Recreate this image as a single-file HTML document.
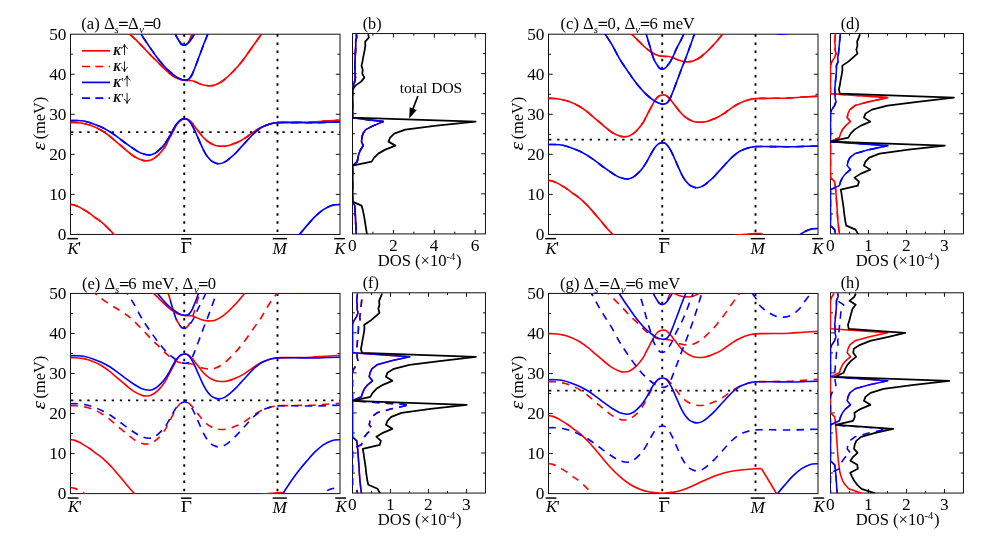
<!DOCTYPE html>
<html><head><meta charset="utf-8"><title>Band structure and DOS</title>
<style>
html,body{margin:0;padding:0;background:#fff;}
body{width:992px;height:540px;overflow:hidden;font-family:"Liberation Serif",serif;}
svg{display:block;will-change:transform;}
svg text{font-family:"Liberation Serif",serif;fill:#000;}
.t{font-size:16px;}
.k{font-size:17.3px;}
.u{font-size:16.6px;}
</style></head><body>
<svg width="992" height="540" viewBox="0 0 992 540">
<rect width="992" height="540" fill="#fff"/>
<clipPath id="ca"><rect x="70.1" y="34.1" width="270.3" height="200.85"/></clipPath>
<g stroke="#111" stroke-width="1" fill="none">
<rect x="70.5" y="34.2" width="269.5" height="200.25"/>
<path d="M70.5 214.42h2.5M340 214.42h-2.5M70.5 194.4h4.2M340 194.4h-4.2M70.5 174.38h2.5M340 174.38h-2.5M70.5 154.35h4.2M340 154.35h-4.2M70.5 134.32h2.5M340 134.32h-2.5M70.5 114.3h4.2M340 114.3h-4.2M70.5 94.28h2.5M340 94.28h-2.5M70.5 74.25h4.2M340 74.25h-4.2M70.5 54.22h2.5M340 54.22h-2.5"/>
</g>
<g stroke="#000" fill="none">
<path d="M184.25 34.35V234.45" stroke-width="1.9" stroke-dasharray="2.5 5.63"/>
<path d="M277.5 34.35V234.45" stroke-width="1.9" stroke-dasharray="2.5 5.63"/>
<path d="M71.05 132.18H340" stroke-width="1.8" stroke-dasharray="2.3 5.83"/>
</g>
<g clip-path="url(#ca)" fill="none" stroke-width="1.62" stroke-linejoin="round">
<path d="M70.5 122.4C71.47 122.42 73.93 122.28 76.3 122.5C78.67 122.72 81.92 123.08 84.7 123.7C87.48 124.32 90.23 125.1 93 126.2C95.77 127.3 98.52 128.63 101.3 130.3C104.08 131.97 106.92 134.04 109.7 136.2C112.48 138.36 115.23 140.9 118 143.25C120.77 145.6 123.67 148.14 126.3 150.3C128.93 152.46 131.23 154.58 133.8 156.2C136.37 157.82 139.63 159.23 141.7 160C143.77 160.77 144.53 160.85 146.2 160.8C147.87 160.75 149.68 160.67 151.7 159.7C153.72 158.73 156.08 157.17 158.3 155C160.52 152.83 163.38 149.03 165 146.7C166.62 144.37 167.01 142.88 168 141C168.99 139.12 169.98 137.27 170.96 135.4C171.94 133.53 172.91 131.63 173.9 129.8C174.89 127.97 175.91 125.9 176.9 124.4C177.89 122.9 178.97 121.63 179.85 120.8C180.73 119.97 181.46 119.7 182.2 119.4C182.94 119.1 183.5 119.05 184.3 119C185.1 118.95 186.07 118.78 187 119.1C187.93 119.42 188.92 120.06 189.9 120.9C190.88 121.74 191.91 122.97 192.9 124.15C193.89 125.33 194.87 126.72 195.85 128C196.83 129.28 198.11 130.97 198.8 131.85C199.49 132.73 199.18 132.31 200 133.3C200.82 134.29 202.47 136.5 203.7 137.8C204.93 139.1 206.17 140.15 207.4 141.1C208.63 142.05 209.87 142.82 211.1 143.5C212.33 144.18 213.57 144.78 214.8 145.2C216.03 145.62 217.27 145.82 218.5 146C219.73 146.18 220.97 146.3 222.2 146.3C223.43 146.3 224.67 146.18 225.9 146C227.13 145.82 228.37 145.56 229.6 145.2C230.83 144.84 232.07 144.32 233.3 143.85C234.53 143.38 235.78 142.93 237 142.4C238.22 141.88 239.22 141.45 240.6 140.7C241.98 139.95 243.75 138.9 245.3 137.9C246.85 136.9 248.37 135.78 249.9 134.7C251.43 133.62 252.97 132.43 254.5 131.4C256.03 130.37 257.55 129.37 259.1 128.5C260.65 127.63 262.25 126.87 263.8 126.2C265.35 125.53 266.87 124.98 268.4 124.5C269.93 124.02 271.45 123.61 273 123.3C274.55 122.99 276.15 122.8 277.7 122.65C279.25 122.5 280.92 122.44 282.3 122.4C283.68 122.36 283.88 122.42 286 122.4C288.12 122.38 290.72 122.37 295 122.3C299.28 122.23 306.7 122.22 311.7 122C316.7 121.78 320.28 121.3 325 121C329.72 120.7 337.5 120.33 340 120.2" stroke="#f00"/>
<path d="M70.5 204.42C71.22 204.55 73.33 204.73 74.8 205.18C76.27 205.63 77.82 206.36 79.3 207.1C80.78 207.84 81.98 208.59 83.7 209.62C85.42 210.65 87.62 211.92 89.6 213.3C91.58 214.68 93.92 216.67 95.6 217.9C97.28 219.13 98.05 219.4 99.7 220.7C101.35 222 103.47 223.8 105.5 225.7C107.53 227.6 109.17 229.08 111.9 232.1C114.63 235.12 118.57 239.9 121.9 243.8C125.23 247.7 128.57 251.88 131.9 255.5C135.23 259.12 138.57 262.58 141.9 265.5C145.23 268.42 148.57 270.92 151.9 273C155.23 275.08 158.57 276.7 161.9 278C165.23 279.3 168.13 280.13 171.9 280.8C175.67 281.47 180.62 281.97 184.5 282C188.38 282.03 192.25 281.4 195.2 281C198.15 280.6 199.37 280.47 202.2 279.6C205.03 278.73 208.32 277.47 212.2 275.8C216.08 274.13 221.05 271.55 225.5 269.6C229.95 267.65 234.45 265.65 238.9 264.1C243.35 262.55 247.77 261.23 252.2 260.3C256.63 259.38 261.28 259.01 265.5 258.55C269.72 258.09 274.5 257.73 277.5 257.55C280.5 257.38 282.5 257.51 283.5 257.5" stroke="#f00"/>
<path d="M283.5 257.5L298.5 282.3L313.5 307.1" stroke="#f00"/>
<path d="M85.5 2.3C87.12 3.63 92.07 7.77 95.2 10.3C98.33 12.83 100.8 15.03 104.3 17.5C107.8 19.97 113.17 23.2 116.2 25.1C119.23 27 120.6 27.67 122.5 28.9C124.4 30.13 126.38 31.6 127.6 32.5C128.82 33.4 129.03 33.6 129.85 34.3C130.67 35 131.51 35.8 132.5 36.7C133.49 37.6 134.37 38.3 135.8 39.7C137.23 41.1 139.32 43.27 141.1 45.1C142.88 46.93 144.7 48.8 146.5 50.7C148.3 52.6 150.13 54.7 151.9 56.5C153.67 58.3 155.37 59.8 157.1 61.5C158.83 63.2 160.6 65.03 162.3 66.7C164 68.37 165.63 70.03 167.3 71.5C168.97 72.97 170.5 74.3 172.3 75.5C174.1 76.7 176.1 77.9 178.1 78.7C180.1 79.5 182.23 80 184.3 80.3C186.37 80.6 188.77 80.3 190.5 80.5C192.23 80.7 192.97 80.87 194.7 81.5C196.43 82.13 198.65 83.6 200.9 84.3C203.15 85 205.85 85.57 208.2 85.7C210.55 85.83 212.48 85.97 215 85.1C217.52 84.23 220.25 82.8 223.3 80.5C226.35 78.2 229.97 74.77 233.3 71.3C236.63 67.83 239.97 64 243.3 59.7C246.63 55.4 250.3 49.73 253.3 45.5C256.3 41.27 258.8 38.17 261.3 34.3C263.8 30.43 265.73 26.3 268.3 22.3C270.87 18.3 274 14.03 276.7 10.3C279.4 6.57 283.2 1.63 284.5 -0.1" stroke="#f00"/>
<path d="M159.5 -23.7C159.83 -22.03 160.58 -17.37 161.5 -13.7C162.42 -10.03 163.87 -5.7 165 -1.7C166.13 2.3 167.12 6.17 168.3 10.3C169.48 14.43 170.9 19.1 172.1 23.1C173.3 27.1 174.5 31.6 175.5 34.3C176.5 37 177.15 37.7 178.1 39.3C179.05 40.9 180.17 42.9 181.2 43.9C182.23 44.9 183.33 45.3 184.3 45.3C185.27 45.3 186.13 44.73 187 43.9C187.87 43.07 188.65 41.9 189.5 40.3C190.35 38.7 191.35 36.13 192.1 34.3C192.85 32.47 192.78 33.3 194 29.3C195.22 25.3 197.98 15.47 199.4 10.3C200.82 5.13 201.98 0.3 202.5 -1.7" stroke="#f00"/>
<path d="M70.5 122.4C71.47 122.42 73.93 122.28 76.3 122.5C78.67 122.72 81.92 123.08 84.7 123.7C87.48 124.32 90.23 125.1 93 126.2C95.77 127.3 98.52 128.63 101.3 130.3C104.08 131.97 106.92 134.04 109.7 136.2C112.48 138.36 115.23 140.9 118 143.25C120.77 145.6 123.67 148.14 126.3 150.3C128.93 152.46 131.23 154.58 133.8 156.2C136.37 157.82 139.63 159.23 141.7 160C143.77 160.77 144.53 160.85 146.2 160.8C147.87 160.75 149.68 160.67 151.7 159.7C153.72 158.73 156.08 157.17 158.3 155C160.52 152.83 163.38 149.03 165 146.7C166.62 144.37 167.01 142.88 168 141C168.99 139.12 169.98 137.27 170.96 135.4C171.94 133.53 172.91 131.63 173.9 129.8C174.89 127.97 175.91 125.9 176.9 124.4C177.89 122.9 178.97 121.63 179.85 120.8C180.73 119.97 181.46 119.7 182.2 119.4C182.94 119.1 183.5 119.05 184.3 119C185.1 118.95 186.07 118.78 187 119.1C187.93 119.42 188.92 120.06 189.9 120.9C190.88 121.74 191.91 122.97 192.9 124.15C193.89 125.33 194.87 126.72 195.85 128C196.83 129.28 198.11 130.97 198.8 131.85C199.49 132.73 199.18 132.31 200 133.3C200.82 134.29 202.47 136.5 203.7 137.8C204.93 139.1 206.17 140.15 207.4 141.1C208.63 142.05 209.87 142.82 211.1 143.5C212.33 144.18 213.57 144.78 214.8 145.2C216.03 145.62 217.27 145.82 218.5 146C219.73 146.18 220.97 146.3 222.2 146.3C223.43 146.3 224.67 146.18 225.9 146C227.13 145.82 228.37 145.56 229.6 145.2C230.83 144.84 232.07 144.32 233.3 143.85C234.53 143.38 235.78 142.93 237 142.4C238.22 141.88 239.22 141.45 240.6 140.7C241.98 139.95 243.75 138.9 245.3 137.9C246.85 136.9 248.37 135.78 249.9 134.7C251.43 133.62 252.97 132.43 254.5 131.4C256.03 130.37 257.55 129.37 259.1 128.5C260.65 127.63 262.25 126.87 263.8 126.2C265.35 125.53 266.87 124.98 268.4 124.5C269.93 124.02 271.45 123.61 273 123.3C274.55 122.99 276.15 122.8 277.7 122.65C279.25 122.5 280.92 122.44 282.3 122.4C283.68 122.36 283.88 122.42 286 122.4C288.12 122.38 290.72 122.37 295 122.3C299.28 122.23 306.7 122.22 311.7 122C316.7 121.78 320.28 121.3 325 121C329.72 120.7 337.5 120.33 340 120.2" stroke="#f00" stroke-dasharray="7.5 6.17" stroke-dashoffset="0"/>
<path d="M70.5 204.42C71.22 204.55 73.33 204.73 74.8 205.18C76.27 205.63 77.82 206.36 79.3 207.1C80.78 207.84 81.98 208.59 83.7 209.62C85.42 210.65 87.62 211.92 89.6 213.3C91.58 214.68 93.92 216.67 95.6 217.9C97.28 219.13 98.05 219.4 99.7 220.7C101.35 222 103.47 223.8 105.5 225.7C107.53 227.6 109.17 229.08 111.9 232.1C114.63 235.12 118.57 239.9 121.9 243.8C125.23 247.7 128.57 251.88 131.9 255.5C135.23 259.12 138.57 262.58 141.9 265.5C145.23 268.42 148.57 270.92 151.9 273C155.23 275.08 158.57 276.7 161.9 278C165.23 279.3 168.13 280.13 171.9 280.8C175.67 281.47 180.62 281.97 184.5 282C188.38 282.03 192.25 281.4 195.2 281C198.15 280.6 199.37 280.47 202.2 279.6C205.03 278.73 208.32 277.47 212.2 275.8C216.08 274.13 221.05 271.55 225.5 269.6C229.95 267.65 234.45 265.65 238.9 264.1C243.35 262.55 247.77 261.23 252.2 260.3C256.63 259.38 261.28 259.01 265.5 258.55C269.72 258.09 274.5 257.73 277.5 257.55C280.5 257.38 282.5 257.51 283.5 257.5" stroke="#f00" stroke-dasharray="7.5 6.17" stroke-dashoffset="0"/>
<path d="M283.5 257.5L298.5 282.3L313.5 307.1" stroke="#f00" stroke-dasharray="7.5 6.17" stroke-dashoffset="0"/>
<path d="M85.5 2.3C87.12 3.63 92.07 7.77 95.2 10.3C98.33 12.83 100.8 15.03 104.3 17.5C107.8 19.97 113.17 23.2 116.2 25.1C119.23 27 120.6 27.67 122.5 28.9C124.4 30.13 126.38 31.6 127.6 32.5C128.82 33.4 129.03 33.6 129.85 34.3C130.67 35 131.51 35.8 132.5 36.7C133.49 37.6 134.37 38.3 135.8 39.7C137.23 41.1 139.32 43.27 141.1 45.1C142.88 46.93 144.7 48.8 146.5 50.7C148.3 52.6 150.13 54.7 151.9 56.5C153.67 58.3 155.37 59.8 157.1 61.5C158.83 63.2 160.6 65.03 162.3 66.7C164 68.37 165.63 70.03 167.3 71.5C168.97 72.97 170.5 74.3 172.3 75.5C174.1 76.7 176.1 77.9 178.1 78.7C180.1 79.5 182.23 80 184.3 80.3C186.37 80.6 188.77 80.3 190.5 80.5C192.23 80.7 192.97 80.87 194.7 81.5C196.43 82.13 198.65 83.6 200.9 84.3C203.15 85 205.85 85.57 208.2 85.7C210.55 85.83 212.48 85.97 215 85.1C217.52 84.23 220.25 82.8 223.3 80.5C226.35 78.2 229.97 74.77 233.3 71.3C236.63 67.83 239.97 64 243.3 59.7C246.63 55.4 250.3 49.73 253.3 45.5C256.3 41.27 258.8 38.17 261.3 34.3C263.8 30.43 265.73 26.3 268.3 22.3C270.87 18.3 274 14.03 276.7 10.3C279.4 6.57 283.2 1.63 284.5 -0.1" stroke="#f00" stroke-dasharray="7.5 6.17" stroke-dashoffset="0"/>
<path d="M159.5 -23.7C159.83 -22.03 160.58 -17.37 161.5 -13.7C162.42 -10.03 163.87 -5.7 165 -1.7C166.13 2.3 167.12 6.17 168.3 10.3C169.48 14.43 170.9 19.1 172.1 23.1C173.3 27.1 174.5 31.6 175.5 34.3C176.5 37 177.15 37.7 178.1 39.3C179.05 40.9 180.17 42.9 181.2 43.9C182.23 44.9 183.33 45.3 184.3 45.3C185.27 45.3 186.13 44.73 187 43.9C187.87 43.07 188.65 41.9 189.5 40.3C190.35 38.7 191.35 36.13 192.1 34.3C192.85 32.47 192.78 33.3 194 29.3C195.22 25.3 197.98 15.47 199.4 10.3C200.82 5.13 201.98 0.3 202.5 -1.7" stroke="#f00" stroke-dasharray="7.5 6.17" stroke-dashoffset="0"/>
<path d="M70.5 120.6C71.47 120.58 73.93 120.38 76.3 120.5C78.67 120.62 81.92 120.77 84.7 121.3C87.48 121.83 90.23 122.75 93 123.7C95.77 124.65 98.52 125.68 101.3 127C104.08 128.32 106.92 129.87 109.7 131.6C112.48 133.33 115.23 135.38 118 137.4C120.77 139.42 123.52 141.68 126.3 143.7C129.08 145.72 132.2 147.91 134.7 149.5C137.2 151.09 138.88 152.33 141.3 153.25C143.72 154.17 146.92 154.99 149.2 155C151.48 155.01 152.92 154.55 155 153.3C157.08 152.05 160.03 149.12 161.7 147.5C163.37 145.88 163.95 145.02 165 143.6C166.05 142.18 167.01 140.63 168 138.96C168.99 137.29 169.98 135.38 170.96 133.6C171.94 131.82 172.91 129.98 173.9 128.3C174.89 126.63 175.91 124.88 176.9 123.55C177.89 122.22 178.97 121.02 179.85 120.3C180.73 119.58 181.46 119.45 182.2 119.2C182.94 118.95 183.6 118.83 184.3 118.8C185 118.77 185.67 118.7 186.4 119C187.13 119.3 187.82 119.65 188.7 120.6C189.58 121.55 190.7 123.07 191.7 124.7C192.7 126.33 193.72 128.37 194.7 130.4C195.68 132.43 196.72 134.92 197.6 136.9C198.48 138.88 198.98 140.03 200 142.3C201.02 144.57 202.47 148.12 203.7 150.5C204.93 152.88 206.17 154.92 207.4 156.6C208.63 158.28 209.83 159.57 211.1 160.6C212.37 161.63 213.65 162.28 215 162.8C216.35 163.32 217.53 163.85 219.2 163.7C220.87 163.55 222.92 163.07 225 161.9C227.08 160.73 229.87 158.23 231.7 156.7C233.53 155.17 234.52 154.21 236 152.7C237.48 151.19 239.05 149.34 240.6 147.65C242.15 145.96 243.75 144.24 245.3 142.55C246.85 140.86 248.37 139.12 249.9 137.5C251.43 135.88 252.97 134.2 254.5 132.8C256.03 131.4 257.55 130.18 259.1 129.1C260.65 128.02 262.25 127.12 263.8 126.35C265.35 125.58 266.87 125.01 268.4 124.5C269.93 123.99 271.45 123.61 273 123.3C274.55 122.99 276.15 122.78 277.7 122.65C279.25 122.52 280.92 122.52 282.3 122.5C283.68 122.48 283.88 122.53 286 122.55C288.12 122.57 290.72 122.56 295 122.6C299.28 122.64 306.15 122.85 311.7 122.8C317.25 122.75 323.58 122.43 328.3 122.3C333.02 122.17 338.05 122.05 340 122" stroke="#00f"/>
<path d="M275.5 270.3C276.75 268.3 280.3 262.5 283 258.3C285.7 254.1 288.92 249.1 291.7 245.1C294.48 241.1 297.2 237.5 299.7 234.3C302.2 231.1 304.15 228.83 306.7 225.9C309.25 222.97 312.23 219.4 315 216.7C317.77 214 320.52 211.57 323.3 209.7C326.08 207.83 328.92 206.37 331.7 205.5C334.48 204.63 338.62 204.67 340 204.5" stroke="#00f"/>
<path d="M108.5 -22.9C109.33 -21.37 111.27 -17.77 113.5 -13.7C115.73 -9.63 119.6 -2.5 121.9 1.5C124.2 5.5 125.3 7.1 127.3 10.3C129.3 13.5 131.57 16.7 133.9 20.7C136.23 24.7 139.3 30.83 141.3 34.3C143.3 37.77 144.27 39.03 145.9 41.5C147.53 43.97 149.37 46.6 151.1 49.1C152.83 51.6 154.57 54.17 156.3 56.5C158.03 58.83 159.77 61.03 161.5 63.1C163.23 65.17 164.97 67.17 166.7 68.9C168.43 70.63 170 72 171.9 73.5C173.8 75 176.03 76.8 178.1 77.9C180.17 79 182.57 79.87 184.3 80.1C186.03 80.33 187.28 80.07 188.5 79.3C189.72 78.53 190.57 77.33 191.6 75.5C192.63 73.67 193.67 70.87 194.7 68.3C195.73 65.73 196.77 62.83 197.8 60.1C198.83 57.37 199.87 54.67 200.9 51.9C201.93 49.13 202.87 46.43 204 43.5C205.13 40.57 205.65 39.83 207.7 34.3C209.75 28.77 213.63 18.3 216.3 10.3C218.97 2.3 222 -8.03 223.7 -13.7C225.4 -19.37 226.03 -22.03 226.5 -23.7" stroke="#00f"/>
<path d="M159.5 -23.7C159.83 -22.03 160.58 -17.37 161.5 -13.7C162.42 -10.03 163.87 -5.7 165 -1.7C166.13 2.3 167.12 6.17 168.3 10.3C169.48 14.43 170.9 19.1 172.1 23.1C173.3 27.1 174.5 31.6 175.5 34.3C176.5 37 177.15 37.7 178.1 39.3C179.05 40.9 180.17 42.9 181.2 43.9C182.23 44.9 183.27 45.3 184.3 45.3C185.33 45.3 186.37 44.73 187.4 43.9C188.43 43.07 189.37 41.9 190.5 40.3C191.63 38.7 192.87 36.9 194.2 34.3C195.53 31.7 196.58 28.7 198.5 24.7C200.42 20.7 202.95 16.7 205.7 10.3C208.45 3.9 212.87 -8.03 215 -13.7C217.13 -19.37 217.92 -22.03 218.5 -23.7" stroke="#00f"/>
<path d="M271 -21.7C271.58 -20.4 273.33 -16.1 274.5 -13.9C275.67 -11.7 276.85 -10.47 278 -8.5C279.15 -6.53 279.93 -3.97 281.4 -2.1C282.87 -0.23 284.93 1.27 286.8 2.7C288.67 4.13 290.52 5.37 292.6 6.5C294.68 7.63 297.08 8.93 299.3 9.5C301.52 10.07 303.73 10.1 305.95 9.9C308.17 9.7 310.66 9.1 312.6 8.3C314.54 7.5 315.93 6.43 317.6 5.1C319.27 3.77 321.07 2.13 322.6 0.3C324.13 -1.53 325.41 -3.97 326.8 -5.9C328.19 -7.83 329.98 -9.97 330.95 -11.3C331.92 -12.63 331.93 -12.17 332.6 -13.9C333.28 -15.63 334.6 -20.4 335 -21.7" stroke="#00f"/>
<path d="M70.5 120.6C71.47 120.58 73.93 120.38 76.3 120.5C78.67 120.62 81.92 120.77 84.7 121.3C87.48 121.83 90.23 122.75 93 123.7C95.77 124.65 98.52 125.68 101.3 127C104.08 128.32 106.92 129.87 109.7 131.6C112.48 133.33 115.23 135.38 118 137.4C120.77 139.42 123.52 141.68 126.3 143.7C129.08 145.72 132.2 147.91 134.7 149.5C137.2 151.09 138.88 152.33 141.3 153.25C143.72 154.17 146.92 154.99 149.2 155C151.48 155.01 152.92 154.55 155 153.3C157.08 152.05 160.03 149.12 161.7 147.5C163.37 145.88 163.95 145.02 165 143.6C166.05 142.18 167.01 140.63 168 138.96C168.99 137.29 169.98 135.38 170.96 133.6C171.94 131.82 172.91 129.98 173.9 128.3C174.89 126.63 175.91 124.88 176.9 123.55C177.89 122.22 178.97 121.02 179.85 120.3C180.73 119.58 181.46 119.45 182.2 119.2C182.94 118.95 183.6 118.83 184.3 118.8C185 118.77 185.67 118.7 186.4 119C187.13 119.3 187.82 119.65 188.7 120.6C189.58 121.55 190.7 123.07 191.7 124.7C192.7 126.33 193.72 128.37 194.7 130.4C195.68 132.43 196.72 134.92 197.6 136.9C198.48 138.88 198.98 140.03 200 142.3C201.02 144.57 202.47 148.12 203.7 150.5C204.93 152.88 206.17 154.92 207.4 156.6C208.63 158.28 209.83 159.57 211.1 160.6C212.37 161.63 213.65 162.28 215 162.8C216.35 163.32 217.53 163.85 219.2 163.7C220.87 163.55 222.92 163.07 225 161.9C227.08 160.73 229.87 158.23 231.7 156.7C233.53 155.17 234.52 154.21 236 152.7C237.48 151.19 239.05 149.34 240.6 147.65C242.15 145.96 243.75 144.24 245.3 142.55C246.85 140.86 248.37 139.12 249.9 137.5C251.43 135.88 252.97 134.2 254.5 132.8C256.03 131.4 257.55 130.18 259.1 129.1C260.65 128.02 262.25 127.12 263.8 126.35C265.35 125.58 266.87 125.01 268.4 124.5C269.93 123.99 271.45 123.61 273 123.3C274.55 122.99 276.15 122.78 277.7 122.65C279.25 122.52 280.92 122.52 282.3 122.5C283.68 122.48 283.88 122.53 286 122.55C288.12 122.57 290.72 122.56 295 122.6C299.28 122.64 306.15 122.85 311.7 122.8C317.25 122.75 323.58 122.43 328.3 122.3C333.02 122.17 338.05 122.05 340 122" stroke="#00f" stroke-dasharray="7.5 6.17" stroke-dashoffset="0"/>
<path d="M275.5 270.3C276.75 268.3 280.3 262.5 283 258.3C285.7 254.1 288.92 249.1 291.7 245.1C294.48 241.1 297.2 237.5 299.7 234.3C302.2 231.1 304.15 228.83 306.7 225.9C309.25 222.97 312.23 219.4 315 216.7C317.77 214 320.52 211.57 323.3 209.7C326.08 207.83 328.92 206.37 331.7 205.5C334.48 204.63 338.62 204.67 340 204.5" stroke="#00f" stroke-dasharray="7.5 6.17" stroke-dashoffset="0"/>
<path d="M108.5 -22.9C109.33 -21.37 111.27 -17.77 113.5 -13.7C115.73 -9.63 119.6 -2.5 121.9 1.5C124.2 5.5 125.3 7.1 127.3 10.3C129.3 13.5 131.57 16.7 133.9 20.7C136.23 24.7 139.3 30.83 141.3 34.3C143.3 37.77 144.27 39.03 145.9 41.5C147.53 43.97 149.37 46.6 151.1 49.1C152.83 51.6 154.57 54.17 156.3 56.5C158.03 58.83 159.77 61.03 161.5 63.1C163.23 65.17 164.97 67.17 166.7 68.9C168.43 70.63 170 72 171.9 73.5C173.8 75 176.03 76.8 178.1 77.9C180.17 79 182.57 79.87 184.3 80.1C186.03 80.33 187.28 80.07 188.5 79.3C189.72 78.53 190.57 77.33 191.6 75.5C192.63 73.67 193.67 70.87 194.7 68.3C195.73 65.73 196.77 62.83 197.8 60.1C198.83 57.37 199.87 54.67 200.9 51.9C201.93 49.13 202.87 46.43 204 43.5C205.13 40.57 205.65 39.83 207.7 34.3C209.75 28.77 213.63 18.3 216.3 10.3C218.97 2.3 222 -8.03 223.7 -13.7C225.4 -19.37 226.03 -22.03 226.5 -23.7" stroke="#00f" stroke-dasharray="7.5 6.17" stroke-dashoffset="0"/>
<path d="M159.5 -23.7C159.83 -22.03 160.58 -17.37 161.5 -13.7C162.42 -10.03 163.87 -5.7 165 -1.7C166.13 2.3 167.12 6.17 168.3 10.3C169.48 14.43 170.9 19.1 172.1 23.1C173.3 27.1 174.5 31.6 175.5 34.3C176.5 37 177.15 37.7 178.1 39.3C179.05 40.9 180.17 42.9 181.2 43.9C182.23 44.9 183.27 45.3 184.3 45.3C185.33 45.3 186.37 44.73 187.4 43.9C188.43 43.07 189.37 41.9 190.5 40.3C191.63 38.7 192.87 36.9 194.2 34.3C195.53 31.7 196.58 28.7 198.5 24.7C200.42 20.7 202.95 16.7 205.7 10.3C208.45 3.9 212.87 -8.03 215 -13.7C217.13 -19.37 217.92 -22.03 218.5 -23.7" stroke="#00f" stroke-dasharray="7.5 6.17" stroke-dashoffset="0"/>
<path d="M271 -21.7C271.58 -20.4 273.33 -16.1 274.5 -13.9C275.67 -11.7 276.85 -10.47 278 -8.5C279.15 -6.53 279.93 -3.97 281.4 -2.1C282.87 -0.23 284.93 1.27 286.8 2.7C288.67 4.13 290.52 5.37 292.6 6.5C294.68 7.63 297.08 8.93 299.3 9.5C301.52 10.07 303.73 10.1 305.95 9.9C308.17 9.7 310.66 9.1 312.6 8.3C314.54 7.5 315.93 6.43 317.6 5.1C319.27 3.77 321.07 2.13 322.6 0.3C324.13 -1.53 325.41 -3.97 326.8 -5.9C328.19 -7.83 329.98 -9.97 330.95 -11.3C331.92 -12.63 331.93 -12.17 332.6 -13.9C333.28 -15.63 334.6 -20.4 335 -21.7" stroke="#00f" stroke-dasharray="7.5 6.17" stroke-dashoffset="0"/>
</g>
<g class="k" text-anchor="end">
<text x="66.5" y="240">0</text>
<text x="66.5" y="199.95">10</text>
<text x="66.5" y="159.9">20</text>
<text x="66.5" y="119.85">30</text>
<text x="66.5" y="79.8">40</text>
<text x="66.5" y="39.75">50</text>
</g>
<text font-size="17.5" font-style="italic" transform="translate(45 150.45) rotate(-90) scale(1.22 1.06)">ε</text>
<text font-size="16.3" transform="translate(45 139.25) rotate(-90)">(meV)</text>
<text font-size="16.5" x="67.5" y="253.7" font-style="italic">K</text>
<path d="M67.2 238.65h10.8" stroke="#000" stroke-width="1.45"/>
<text class="t" x="78.1" y="253.3">'</text>
<text class="t" transform="translate(180.8 253.3) scale(1.21 1.04)">Γ</text>
<path d="M181.05 238.8h10.4" stroke="#000" stroke-width="1.5"/>
<text font-size="17.3" x="272.5" y="254.25" font-style="italic">M</text>
<path d="M272.7 238.65h14.2" stroke="#000" stroke-width="1.45"/>
<text font-size="16.5" x="334.5" y="253.7" font-style="italic">K</text>
<path d="M334.2 238.65h10.8" stroke="#000" stroke-width="1.45"/>
<path d="M119.15 22.35h8.6M119.15 25.5h8.6" stroke="#000" stroke-width="1.2"/>
<path d="M144.3 22.35h8.6M144.3 25.5h8.6" stroke="#000" stroke-width="1.2"/>
<text class="u"><tspan x="81.3" y="28.8">(a)</tspan><tspan x="104" y="28.8">Δ</tspan><tspan x="114.6" y="32.5" font-size="10.8" font-style="italic">s</tspan><tspan x="128" y="28.8">Δ</tspan><tspan x="139.2" y="32.5" font-size="10.8" font-style="italic">v</tspan><tspan x="152.8" y="28.8">0</tspan></text>
<path d="M82 50.8H110" stroke="#f00" stroke-width="1.7"/>
<text x="112.7" y="55" font-size="12.3" font-weight="bold" font-style="italic">K</text>
<path d="M124.5 55V44.2M121.2 48.7Q123.9 47.4 124.5 44.2Q125.1 47.4 127.8 48.7" stroke="#000" stroke-width="0.85" fill="none"/>
<path d="M82 66.5H110" stroke="#f00" stroke-width="1.7" stroke-dasharray="8 5.3"/>
<text x="112.7" y="70.7" font-size="12.3" font-weight="bold" font-style="italic">K</text>
<path d="M124.5 61.3V71.8M121.2 67.3Q123.9 68.6 124.5 71.8Q125.1 68.6 127.8 67.3" stroke="#000" stroke-width="0.85" fill="none"/>
<path d="M82 82.4H110" stroke="#00f" stroke-width="1.7"/>
<text x="112.7" y="86.6" font-size="12.3" font-weight="bold" font-style="italic">K</text>
<text x="121.2" y="86.4" font-size="11.5">'</text>
<path d="M127.1 86.6V75.8M123.8 80.3Q126.5 79 127.1 75.8Q127.7 79 130.4 80.3" stroke="#000" stroke-width="0.85" fill="none"/>
<path d="M82 98.1H110" stroke="#00f" stroke-width="1.7" stroke-dasharray="8 5.3"/>
<text x="112.7" y="102.3" font-size="12.3" font-weight="bold" font-style="italic">K</text>
<text x="121.2" y="102.1" font-size="11.5">'</text>
<path d="M127.1 92.9V103.4M123.8 98.9Q126.5 100.2 127.1 103.4Q127.7 100.2 130.4 98.9" stroke="#000" stroke-width="0.85" fill="none"/>
<clipPath id="db"><rect x="352" y="33.55" width="133.45" height="200.65"/></clipPath>
<g stroke="#111" stroke-width="1" fill="none">
<rect x="352.5" y="33.55" width="132.95" height="200.35"/>
<path d="M352.5 213.87h2.5M485.45 213.87h-2.5M352.5 193.83h4.2M485.45 193.83h-4.2M352.5 173.79h2.5M485.45 173.79h-2.5M352.5 153.76h4.2M485.45 153.76h-4.2M352.5 133.72h2.5M485.45 133.72h-2.5M352.5 113.69h4.2M485.45 113.69h-4.2M352.5 93.65h2.5M485.45 93.65h-2.5M352.5 73.62h4.2M485.45 73.62h-4.2M352.5 53.58h2.5M485.45 53.58h-2.5M372.95 233.9v-2.2M372.95 33.55v2.2M393.41 233.9v-4M393.41 33.55v4M413.86 233.9v-2.2M413.86 33.55v2.2M434.32 233.9v-4M434.32 33.55v4M454.77 233.9v-2.2M454.77 33.55v2.2M475.22 233.9v-4M475.22 33.55v4"/>
</g>
<g clip-path="url(#db)" fill="none" stroke-width="1.55" stroke-linejoin="round">
<path d="M356.42 34.3L356.59 37.62L355.67 41.62L355.71 45.62L355.57 49.62L355.36 53.62L355.16 57.62L355 61.62L354.75 65.62L355.06 69.62L354.95 73.62L355.47 77.62L354.65 81.62L353.22 85.62L352.5 89.62L352.5 117.62L383.28 121.62L373.51 125.62L365.69 129.62L362.93 133.62L361.91 137.62L361.5 141.62L363.24 145.62L360.68 149.62L358.94 153.62L357.92 157.62L357.29 161.62L352.5 165.62L352.5 201.62L354.75 205.62L355.06 209.62L355.26 213.62L355.47 217.62L355.61 221.62L355.77 225.62L355.94 229.62L356.08 233.62L356.1 234.3" stroke="#f00"/>
<path d="M356.42 34.3L356.59 37.62L355.67 41.62L355.71 45.62L355.57 49.62L355.36 53.62L355.16 57.62L355 61.62L354.75 65.62L355.06 69.62L354.95 73.62L355.47 77.62L354.65 81.62L353.22 85.62L352.5 89.62L352.5 117.62L383.28 121.62L373.51 125.62L365.69 129.62L362.93 133.62L361.91 137.62L361.5 141.62L363.24 145.62L360.68 149.62L358.94 153.62L357.92 157.62L357.29 161.62L352.5 165.62L352.5 201.62L354.75 205.62L355.06 209.62L355.26 213.62L355.47 217.62L355.61 221.62L355.77 225.62L355.94 229.62L356.08 233.62L356.1 234.3" stroke="#f00" stroke-dasharray="7.5 6.17" stroke-dashoffset="0"/>
<path d="M356.42 34.3L356.59 37.62L355.67 41.62L355.71 45.62L355.57 49.62L355.36 53.62L355.16 57.62L355 61.62L354.75 65.62L355.06 69.62L354.95 73.62L355.47 77.62L354.65 81.62L353.22 85.62L352.5 89.62L352.5 117.62L383.28 121.62L373.51 125.62L365.69 129.62L362.93 133.62L361.91 137.62L361.5 141.62L363.24 145.62L360.68 149.62L358.94 153.62L357.92 157.62L357.29 161.62L352.5 165.62L352.5 201.62L354.75 205.62L355.06 209.62L355.26 213.62L355.47 217.62L355.61 221.62L355.77 225.62L355.94 229.62L356.08 233.62L356.1 234.3" stroke="#00f"/>
<path d="M356.42 34.3L356.59 37.62L355.67 41.62L355.71 45.62L355.57 49.62L355.36 53.62L355.16 57.62L355 61.62L354.75 65.62L355.06 69.62L354.95 73.62L355.47 77.62L354.65 81.62L353.22 85.62L352.5 89.62L352.5 117.62L383.28 121.62L373.51 125.62L365.69 129.62L362.93 133.62L361.91 137.62L361.5 141.62L363.24 145.62L360.68 149.62L358.94 153.62L357.92 157.62L357.29 161.62L352.5 165.62L352.5 201.62L354.75 205.62L355.06 209.62L355.26 213.62L355.47 217.62L355.61 221.62L355.77 225.62L355.94 229.62L356.08 233.62L356.1 234.3" stroke="#00f" stroke-dasharray="7.5 6.17" stroke-dashoffset="0"/>
<path d="M368.18 34.3L368.86 37.62L365.18 41.62L365.35 45.62L364.77 49.62L363.95 53.62L363.14 57.62L362.48 61.62L361.5 65.62L362.73 69.62L362.32 73.62L364.36 77.62L361.09 81.62L355.36 85.62L352.5 89.62L352.5 117.62L475.63 121.62L436.52 125.62L405.27 129.62L394.23 133.62L390.14 137.62L388.5 141.62L395.45 145.62L385.23 149.62L378.27 153.62L374.18 157.62L371.64 161.62L352.5 165.62L352.5 201.62L361.5 205.62L362.73 209.62L363.55 213.62L364.36 217.62L364.94 221.62L365.59 225.62L366.24 229.62L366.82 233.62L366.89 234.3" stroke="#000" stroke-width="1.75"/>
</g>
<g class="k" text-anchor="middle">
<text x="352.3" y="250.85">0</text>
<text x="393.21" y="250.85">2</text>
<text x="434.12" y="250.85">4</text>
<text x="475.02" y="250.85">6</text>
</g>
<text class="u" x="377.7" y="266.1">DOS (×10<tspan font-size="10.5" dy="-6.3">-4</tspan><tspan dy="6.3" dx="0.6">)</tspan></text>
<text font-size="16.2" x="362.7" y="28.55">(b)</text>
<text x="399.8" y="92.85" font-size="15.5">total DOS</text>
<path d="M417.9 96.05L412.7 109.55" stroke="#000" stroke-width="1.7"/>
<path d="M409.2 118.55L409.7 107.15L416.8 109.95Z" fill="#000"/>
<clipPath id="cc"><rect x="548.1" y="34.1" width="270.3" height="200.85"/></clipPath>
<g stroke="#111" stroke-width="1" fill="none">
<rect x="548.5" y="34.2" width="269.5" height="200.25"/>
<path d="M548.5 214.42h2.5M818 214.42h-2.5M548.5 194.4h4.2M818 194.4h-4.2M548.5 174.38h2.5M818 174.38h-2.5M548.5 154.35h4.2M818 154.35h-4.2M548.5 134.32h2.5M818 134.32h-2.5M548.5 114.3h4.2M818 114.3h-4.2M548.5 94.28h2.5M818 94.28h-2.5M548.5 74.25h4.2M818 74.25h-4.2M548.5 54.22h2.5M818 54.22h-2.5"/>
</g>
<g stroke="#000" fill="none">
<path d="M662.25 34.35V234.45" stroke-width="1.9" stroke-dasharray="2.5 5.63"/>
<path d="M755.5 34.35V234.45" stroke-width="1.9" stroke-dasharray="2.5 5.63"/>
<path d="M549.05 139.7H818" stroke-width="1.8" stroke-dasharray="2.3 5.83"/>
</g>
<g clip-path="url(#cc)" fill="none" stroke-width="1.62" stroke-linejoin="round">
<path d="M548.5 98.4C549.47 98.42 551.93 98.28 554.3 98.5C556.67 98.72 559.92 99.08 562.7 99.7C565.48 100.32 568.23 101.1 571 102.2C573.77 103.3 576.52 104.63 579.3 106.3C582.08 107.97 584.92 110.04 587.7 112.2C590.48 114.36 593.23 116.9 596 119.25C598.77 121.6 601.67 124.14 604.3 126.3C606.93 128.46 609.23 130.58 611.8 132.2C614.37 133.82 617.63 135.23 619.7 136C621.77 136.77 622.53 136.85 624.2 136.8C625.87 136.75 627.68 136.67 629.7 135.7C631.72 134.73 634.08 133.17 636.3 131C638.52 128.83 641.38 125.03 643 122.7C644.62 120.37 645.01 118.88 646 117C646.99 115.12 647.98 113.27 648.96 111.4C649.94 109.53 650.91 107.63 651.9 105.8C652.89 103.97 653.91 101.9 654.9 100.4C655.89 98.9 656.97 97.63 657.85 96.8C658.73 95.97 659.46 95.7 660.2 95.4C660.94 95.1 661.5 95.05 662.3 95C663.1 94.95 664.07 94.78 665 95.1C665.93 95.42 666.92 96.06 667.9 96.9C668.88 97.74 669.91 98.97 670.9 100.15C671.89 101.33 672.87 102.72 673.85 104C674.83 105.28 676.11 106.97 676.8 107.85C677.49 108.73 677.18 108.31 678 109.3C678.82 110.29 680.47 112.5 681.7 113.8C682.93 115.1 684.17 116.15 685.4 117.1C686.63 118.05 687.87 118.82 689.1 119.5C690.33 120.18 691.57 120.78 692.8 121.2C694.03 121.62 695.27 121.82 696.5 122C697.73 122.18 698.97 122.3 700.2 122.3C701.43 122.3 702.67 122.18 703.9 122C705.13 121.82 706.37 121.56 707.6 121.2C708.83 120.84 710.07 120.32 711.3 119.85C712.53 119.38 713.78 118.93 715 118.4C716.22 117.88 717.22 117.45 718.6 116.7C719.98 115.95 721.75 114.9 723.3 113.9C724.85 112.9 726.37 111.78 727.9 110.7C729.43 109.62 730.97 108.43 732.5 107.4C734.03 106.37 735.55 105.37 737.1 104.5C738.65 103.63 740.25 102.87 741.8 102.2C743.35 101.53 744.87 100.98 746.4 100.5C747.93 100.02 749.45 99.61 751 99.3C752.55 98.99 754.15 98.8 755.7 98.65C757.25 98.5 758.92 98.44 760.3 98.4C761.68 98.36 761.88 98.42 764 98.4C766.12 98.38 768.72 98.37 773 98.3C777.28 98.23 784.7 98.22 789.7 98C794.7 97.78 798.28 97.3 803 97C807.72 96.7 815.5 96.33 818 96.2" stroke="#f00"/>
<path d="M548.5 180.42C549.22 180.55 551.33 180.73 552.8 181.18C554.27 181.63 555.82 182.36 557.3 183.1C558.78 183.84 559.98 184.59 561.7 185.62C563.42 186.65 565.62 187.92 567.6 189.3C569.58 190.68 571.92 192.67 573.6 193.9C575.28 195.13 576.05 195.4 577.7 196.7C579.35 198 581.47 199.8 583.5 201.7C585.53 203.6 587.17 205.08 589.9 208.1C592.63 211.12 596.57 215.9 599.9 219.8C603.23 223.7 606.57 227.88 609.9 231.5C613.23 235.12 616.57 238.58 619.9 241.5C623.23 244.42 626.57 246.92 629.9 249C633.23 251.08 636.57 252.7 639.9 254C643.23 255.3 646.13 256.13 649.9 256.8C653.67 257.47 658.62 257.97 662.5 258C666.38 258.03 670.25 257.4 673.2 257C676.15 256.6 677.37 256.47 680.2 255.6C683.03 254.73 686.32 253.47 690.2 251.8C694.08 250.13 699.05 247.55 703.5 245.6C707.95 243.65 712.45 241.65 716.9 240.1C721.35 238.55 725.77 237.23 730.2 236.3C734.63 235.38 739.28 235.01 743.5 234.55C747.72 234.09 752.5 233.73 755.5 233.55C758.5 233.38 760.5 233.51 761.5 233.5" stroke="#f00"/>
<path d="M761.5 233.5L776.5 258.3L791.5 283.1" stroke="#f00"/>
<path d="M563.5 -21.7C565.12 -20.37 570.07 -16.23 573.2 -13.7C576.33 -11.17 578.8 -8.97 582.3 -6.5C585.8 -4.03 591.17 -0.8 594.2 1.1C597.23 3 598.6 3.67 600.5 4.9C602.4 6.13 604.38 7.6 605.6 8.5C606.83 9.4 607.03 9.6 607.85 10.3C608.67 11 609.51 11.8 610.5 12.7C611.49 13.6 612.37 14.3 613.8 15.7C615.23 17.1 617.32 19.27 619.1 21.1C620.88 22.93 622.7 24.8 624.5 26.7C626.3 28.6 628.13 30.7 629.9 32.5C631.67 34.3 633.37 35.8 635.1 37.5C636.83 39.2 638.6 41.03 640.3 42.7C642 44.37 643.63 46.03 645.3 47.5C646.97 48.97 648.5 50.3 650.3 51.5C652.1 52.7 654.1 53.9 656.1 54.7C658.1 55.5 660.23 56 662.3 56.3C664.37 56.6 666.77 56.3 668.5 56.5C670.23 56.7 670.97 56.87 672.7 57.5C674.43 58.13 676.65 59.6 678.9 60.3C681.15 61 683.85 61.57 686.2 61.7C688.55 61.83 690.48 61.97 693 61.1C695.52 60.23 698.25 58.8 701.3 56.5C704.35 54.2 707.97 50.77 711.3 47.3C714.63 43.83 717.97 40 721.3 35.7C724.63 31.4 728.3 25.73 731.3 21.5C734.3 17.27 736.8 14.17 739.3 10.3C741.8 6.43 743.73 2.3 746.3 -1.7C748.87 -5.7 752 -9.97 754.7 -13.7C757.4 -17.43 761.2 -22.37 762.5 -24.1" stroke="#f00"/>
<path d="M637.5 -47.7C637.83 -46.03 638.58 -41.37 639.5 -37.7C640.42 -34.03 641.87 -29.7 643 -25.7C644.13 -21.7 645.12 -17.83 646.3 -13.7C647.48 -9.57 648.9 -4.9 650.1 -0.9C651.3 3.1 652.5 7.6 653.5 10.3C654.5 13 655.15 13.7 656.1 15.3C657.05 16.9 658.17 18.9 659.2 19.9C660.23 20.9 661.33 21.3 662.3 21.3C663.27 21.3 664.13 20.73 665 19.9C665.87 19.07 666.65 17.9 667.5 16.3C668.35 14.7 669.35 12.13 670.1 10.3C670.85 8.47 670.78 9.3 672 5.3C673.22 1.3 675.98 -8.53 677.4 -13.7C678.82 -18.87 679.98 -23.7 680.5 -25.7" stroke="#f00"/>
<path d="M548.5 98.4C549.47 98.42 551.93 98.28 554.3 98.5C556.67 98.72 559.92 99.08 562.7 99.7C565.48 100.32 568.23 101.1 571 102.2C573.77 103.3 576.52 104.63 579.3 106.3C582.08 107.97 584.92 110.04 587.7 112.2C590.48 114.36 593.23 116.9 596 119.25C598.77 121.6 601.67 124.14 604.3 126.3C606.93 128.46 609.23 130.58 611.8 132.2C614.37 133.82 617.63 135.23 619.7 136C621.77 136.77 622.53 136.85 624.2 136.8C625.87 136.75 627.68 136.67 629.7 135.7C631.72 134.73 634.08 133.17 636.3 131C638.52 128.83 641.38 125.03 643 122.7C644.62 120.37 645.01 118.88 646 117C646.99 115.12 647.98 113.27 648.96 111.4C649.94 109.53 650.91 107.63 651.9 105.8C652.89 103.97 653.91 101.9 654.9 100.4C655.89 98.9 656.97 97.63 657.85 96.8C658.73 95.97 659.46 95.7 660.2 95.4C660.94 95.1 661.5 95.05 662.3 95C663.1 94.95 664.07 94.78 665 95.1C665.93 95.42 666.92 96.06 667.9 96.9C668.88 97.74 669.91 98.97 670.9 100.15C671.89 101.33 672.87 102.72 673.85 104C674.83 105.28 676.11 106.97 676.8 107.85C677.49 108.73 677.18 108.31 678 109.3C678.82 110.29 680.47 112.5 681.7 113.8C682.93 115.1 684.17 116.15 685.4 117.1C686.63 118.05 687.87 118.82 689.1 119.5C690.33 120.18 691.57 120.78 692.8 121.2C694.03 121.62 695.27 121.82 696.5 122C697.73 122.18 698.97 122.3 700.2 122.3C701.43 122.3 702.67 122.18 703.9 122C705.13 121.82 706.37 121.56 707.6 121.2C708.83 120.84 710.07 120.32 711.3 119.85C712.53 119.38 713.78 118.93 715 118.4C716.22 117.88 717.22 117.45 718.6 116.7C719.98 115.95 721.75 114.9 723.3 113.9C724.85 112.9 726.37 111.78 727.9 110.7C729.43 109.62 730.97 108.43 732.5 107.4C734.03 106.37 735.55 105.37 737.1 104.5C738.65 103.63 740.25 102.87 741.8 102.2C743.35 101.53 744.87 100.98 746.4 100.5C747.93 100.02 749.45 99.61 751 99.3C752.55 98.99 754.15 98.8 755.7 98.65C757.25 98.5 758.92 98.44 760.3 98.4C761.68 98.36 761.88 98.42 764 98.4C766.12 98.38 768.72 98.37 773 98.3C777.28 98.23 784.7 98.22 789.7 98C794.7 97.78 798.28 97.3 803 97C807.72 96.7 815.5 96.33 818 96.2" stroke="#f00" stroke-dasharray="7.5 6.17" stroke-dashoffset="0"/>
<path d="M548.5 180.42C549.22 180.55 551.33 180.73 552.8 181.18C554.27 181.63 555.82 182.36 557.3 183.1C558.78 183.84 559.98 184.59 561.7 185.62C563.42 186.65 565.62 187.92 567.6 189.3C569.58 190.68 571.92 192.67 573.6 193.9C575.28 195.13 576.05 195.4 577.7 196.7C579.35 198 581.47 199.8 583.5 201.7C585.53 203.6 587.17 205.08 589.9 208.1C592.63 211.12 596.57 215.9 599.9 219.8C603.23 223.7 606.57 227.88 609.9 231.5C613.23 235.12 616.57 238.58 619.9 241.5C623.23 244.42 626.57 246.92 629.9 249C633.23 251.08 636.57 252.7 639.9 254C643.23 255.3 646.13 256.13 649.9 256.8C653.67 257.47 658.62 257.97 662.5 258C666.38 258.03 670.25 257.4 673.2 257C676.15 256.6 677.37 256.47 680.2 255.6C683.03 254.73 686.32 253.47 690.2 251.8C694.08 250.13 699.05 247.55 703.5 245.6C707.95 243.65 712.45 241.65 716.9 240.1C721.35 238.55 725.77 237.23 730.2 236.3C734.63 235.38 739.28 235.01 743.5 234.55C747.72 234.09 752.5 233.73 755.5 233.55C758.5 233.38 760.5 233.51 761.5 233.5" stroke="#f00" stroke-dasharray="7.5 6.17" stroke-dashoffset="0"/>
<path d="M761.5 233.5L776.5 258.3L791.5 283.1" stroke="#f00" stroke-dasharray="7.5 6.17" stroke-dashoffset="0"/>
<path d="M563.5 -21.7C565.12 -20.37 570.07 -16.23 573.2 -13.7C576.33 -11.17 578.8 -8.97 582.3 -6.5C585.8 -4.03 591.17 -0.8 594.2 1.1C597.23 3 598.6 3.67 600.5 4.9C602.4 6.13 604.38 7.6 605.6 8.5C606.83 9.4 607.03 9.6 607.85 10.3C608.67 11 609.51 11.8 610.5 12.7C611.49 13.6 612.37 14.3 613.8 15.7C615.23 17.1 617.32 19.27 619.1 21.1C620.88 22.93 622.7 24.8 624.5 26.7C626.3 28.6 628.13 30.7 629.9 32.5C631.67 34.3 633.37 35.8 635.1 37.5C636.83 39.2 638.6 41.03 640.3 42.7C642 44.37 643.63 46.03 645.3 47.5C646.97 48.97 648.5 50.3 650.3 51.5C652.1 52.7 654.1 53.9 656.1 54.7C658.1 55.5 660.23 56 662.3 56.3C664.37 56.6 666.77 56.3 668.5 56.5C670.23 56.7 670.97 56.87 672.7 57.5C674.43 58.13 676.65 59.6 678.9 60.3C681.15 61 683.85 61.57 686.2 61.7C688.55 61.83 690.48 61.97 693 61.1C695.52 60.23 698.25 58.8 701.3 56.5C704.35 54.2 707.97 50.77 711.3 47.3C714.63 43.83 717.97 40 721.3 35.7C724.63 31.4 728.3 25.73 731.3 21.5C734.3 17.27 736.8 14.17 739.3 10.3C741.8 6.43 743.73 2.3 746.3 -1.7C748.87 -5.7 752 -9.97 754.7 -13.7C757.4 -17.43 761.2 -22.37 762.5 -24.1" stroke="#f00" stroke-dasharray="7.5 6.17" stroke-dashoffset="0"/>
<path d="M637.5 -47.7C637.83 -46.03 638.58 -41.37 639.5 -37.7C640.42 -34.03 641.87 -29.7 643 -25.7C644.13 -21.7 645.12 -17.83 646.3 -13.7C647.48 -9.57 648.9 -4.9 650.1 -0.9C651.3 3.1 652.5 7.6 653.5 10.3C654.5 13 655.15 13.7 656.1 15.3C657.05 16.9 658.17 18.9 659.2 19.9C660.23 20.9 661.33 21.3 662.3 21.3C663.27 21.3 664.13 20.73 665 19.9C665.87 19.07 666.65 17.9 667.5 16.3C668.35 14.7 669.35 12.13 670.1 10.3C670.85 8.47 670.78 9.3 672 5.3C673.22 1.3 675.98 -8.53 677.4 -13.7C678.82 -18.87 679.98 -23.7 680.5 -25.7" stroke="#f00" stroke-dasharray="7.5 6.17" stroke-dashoffset="0"/>
<path d="M548.5 144.6C549.47 144.58 551.93 144.38 554.3 144.5C556.67 144.62 559.92 144.77 562.7 145.3C565.48 145.83 568.23 146.75 571 147.7C573.77 148.65 576.52 149.68 579.3 151C582.08 152.32 584.92 153.87 587.7 155.6C590.48 157.33 593.23 159.38 596 161.4C598.77 163.42 601.52 165.68 604.3 167.7C607.08 169.72 610.2 171.91 612.7 173.5C615.2 175.09 616.88 176.33 619.3 177.25C621.72 178.17 624.92 178.99 627.2 179C629.48 179.01 630.92 178.55 633 177.3C635.08 176.05 638.03 173.12 639.7 171.5C641.37 169.88 641.95 169.02 643 167.6C644.05 166.18 645.01 164.63 646 162.96C646.99 161.29 647.98 159.38 648.96 157.6C649.94 155.82 650.91 153.98 651.9 152.3C652.89 150.62 653.91 148.88 654.9 147.55C655.89 146.22 656.97 145.03 657.85 144.3C658.73 143.58 659.46 143.45 660.2 143.2C660.94 142.95 661.6 142.83 662.3 142.8C663 142.77 663.67 142.7 664.4 143C665.13 143.3 665.82 143.65 666.7 144.6C667.58 145.55 668.7 147.07 669.7 148.7C670.7 150.33 671.72 152.37 672.7 154.4C673.68 156.43 674.72 158.92 675.6 160.9C676.48 162.88 676.98 164.03 678 166.3C679.02 168.57 680.47 172.12 681.7 174.5C682.93 176.88 684.17 178.92 685.4 180.6C686.63 182.28 687.83 183.57 689.1 184.6C690.37 185.63 691.65 186.28 693 186.8C694.35 187.32 695.53 187.85 697.2 187.7C698.87 187.55 700.92 187.07 703 185.9C705.08 184.73 707.87 182.23 709.7 180.7C711.53 179.17 712.52 178.21 714 176.7C715.48 175.19 717.05 173.34 718.6 171.65C720.15 169.96 721.75 168.24 723.3 166.55C724.85 164.86 726.37 163.12 727.9 161.5C729.43 159.88 730.97 158.2 732.5 156.8C734.03 155.4 735.55 154.18 737.1 153.1C738.65 152.02 740.25 151.12 741.8 150.35C743.35 149.58 744.87 149.01 746.4 148.5C747.93 147.99 749.45 147.61 751 147.3C752.55 146.99 754.15 146.78 755.7 146.65C757.25 146.52 758.92 146.52 760.3 146.5C761.68 146.48 761.88 146.53 764 146.55C766.12 146.57 768.72 146.56 773 146.6C777.28 146.64 784.15 146.85 789.7 146.8C795.25 146.75 801.58 146.43 806.3 146.3C811.02 146.17 816.05 146.05 818 146" stroke="#00f"/>
<path d="M753.5 294.3C754.75 292.3 758.3 286.5 761 282.3C763.7 278.1 766.92 273.1 769.7 269.1C772.48 265.1 775.2 261.5 777.7 258.3C780.2 255.1 782.15 252.83 784.7 249.9C787.25 246.97 790.23 243.4 793 240.7C795.77 238 798.52 235.57 801.3 233.7C804.08 231.83 806.92 230.37 809.7 229.5C812.48 228.63 816.62 228.67 818 228.5" stroke="#00f"/>
<path d="M586.5 1.1C587.33 2.63 589.27 6.23 591.5 10.3C593.73 14.37 597.6 21.5 599.9 25.5C602.2 29.5 603.3 31.1 605.3 34.3C607.3 37.5 609.57 40.7 611.9 44.7C614.23 48.7 617.3 54.83 619.3 58.3C621.3 61.77 622.27 63.03 623.9 65.5C625.53 67.97 627.37 70.6 629.1 73.1C630.83 75.6 632.57 78.17 634.3 80.5C636.03 82.83 637.77 85.03 639.5 87.1C641.23 89.17 642.97 91.17 644.7 92.9C646.43 94.63 648 96 649.9 97.5C651.8 99 654.03 100.8 656.1 101.9C658.17 103 660.57 103.87 662.3 104.1C664.03 104.33 665.28 104.07 666.5 103.3C667.72 102.53 668.57 101.33 669.6 99.5C670.63 97.67 671.67 94.87 672.7 92.3C673.73 89.73 674.77 86.83 675.8 84.1C676.83 81.37 677.87 78.67 678.9 75.9C679.93 73.13 680.87 70.43 682 67.5C683.13 64.57 683.65 63.83 685.7 58.3C687.75 52.77 691.63 42.3 694.3 34.3C696.97 26.3 700 15.97 701.7 10.3C703.4 4.63 704.03 1.97 704.5 0.3" stroke="#00f"/>
<path d="M637.5 0.3C637.83 1.97 638.58 6.63 639.5 10.3C640.42 13.97 641.87 18.3 643 22.3C644.13 26.3 645.12 30.17 646.3 34.3C647.48 38.43 648.9 43.1 650.1 47.1C651.3 51.1 652.5 55.6 653.5 58.3C654.5 61 655.15 61.7 656.1 63.3C657.05 64.9 658.17 66.9 659.2 67.9C660.23 68.9 661.27 69.3 662.3 69.3C663.33 69.3 664.37 68.73 665.4 67.9C666.43 67.07 667.37 65.9 668.5 64.3C669.63 62.7 670.87 60.9 672.2 58.3C673.53 55.7 674.58 52.7 676.5 48.7C678.42 44.7 680.95 40.7 683.7 34.3C686.45 27.9 690.87 15.97 693 10.3C695.13 4.63 695.92 1.97 696.5 0.3" stroke="#00f"/>
<path d="M749 2.3C749.58 3.6 751.33 7.9 752.5 10.1C753.67 12.3 754.85 13.53 756 15.5C757.15 17.47 757.93 20.03 759.4 21.9C760.87 23.77 762.93 25.27 764.8 26.7C766.67 28.13 768.52 29.37 770.6 30.5C772.68 31.63 775.07 32.93 777.3 33.5C779.52 34.07 781.73 34.1 783.95 33.9C786.17 33.7 788.66 33.1 790.6 32.3C792.54 31.5 793.93 30.43 795.6 29.1C797.27 27.77 799.07 26.13 800.6 24.3C802.13 22.47 803.41 20.03 804.8 18.1C806.19 16.17 807.98 14.03 808.95 12.7C809.92 11.37 809.93 11.83 810.6 10.1C811.27 8.37 812.6 3.6 813 2.3" stroke="#00f"/>
<path d="M548.5 144.6C549.47 144.58 551.93 144.38 554.3 144.5C556.67 144.62 559.92 144.77 562.7 145.3C565.48 145.83 568.23 146.75 571 147.7C573.77 148.65 576.52 149.68 579.3 151C582.08 152.32 584.92 153.87 587.7 155.6C590.48 157.33 593.23 159.38 596 161.4C598.77 163.42 601.52 165.68 604.3 167.7C607.08 169.72 610.2 171.91 612.7 173.5C615.2 175.09 616.88 176.33 619.3 177.25C621.72 178.17 624.92 178.99 627.2 179C629.48 179.01 630.92 178.55 633 177.3C635.08 176.05 638.03 173.12 639.7 171.5C641.37 169.88 641.95 169.02 643 167.6C644.05 166.18 645.01 164.63 646 162.96C646.99 161.29 647.98 159.38 648.96 157.6C649.94 155.82 650.91 153.98 651.9 152.3C652.89 150.62 653.91 148.88 654.9 147.55C655.89 146.22 656.97 145.03 657.85 144.3C658.73 143.58 659.46 143.45 660.2 143.2C660.94 142.95 661.6 142.83 662.3 142.8C663 142.77 663.67 142.7 664.4 143C665.13 143.3 665.82 143.65 666.7 144.6C667.58 145.55 668.7 147.07 669.7 148.7C670.7 150.33 671.72 152.37 672.7 154.4C673.68 156.43 674.72 158.92 675.6 160.9C676.48 162.88 676.98 164.03 678 166.3C679.02 168.57 680.47 172.12 681.7 174.5C682.93 176.88 684.17 178.92 685.4 180.6C686.63 182.28 687.83 183.57 689.1 184.6C690.37 185.63 691.65 186.28 693 186.8C694.35 187.32 695.53 187.85 697.2 187.7C698.87 187.55 700.92 187.07 703 185.9C705.08 184.73 707.87 182.23 709.7 180.7C711.53 179.17 712.52 178.21 714 176.7C715.48 175.19 717.05 173.34 718.6 171.65C720.15 169.96 721.75 168.24 723.3 166.55C724.85 164.86 726.37 163.12 727.9 161.5C729.43 159.88 730.97 158.2 732.5 156.8C734.03 155.4 735.55 154.18 737.1 153.1C738.65 152.02 740.25 151.12 741.8 150.35C743.35 149.58 744.87 149.01 746.4 148.5C747.93 147.99 749.45 147.61 751 147.3C752.55 146.99 754.15 146.78 755.7 146.65C757.25 146.52 758.92 146.52 760.3 146.5C761.68 146.48 761.88 146.53 764 146.55C766.12 146.57 768.72 146.56 773 146.6C777.28 146.64 784.15 146.85 789.7 146.8C795.25 146.75 801.58 146.43 806.3 146.3C811.02 146.17 816.05 146.05 818 146" stroke="#00f" stroke-dasharray="7.5 6.17" stroke-dashoffset="0"/>
<path d="M753.5 294.3C754.75 292.3 758.3 286.5 761 282.3C763.7 278.1 766.92 273.1 769.7 269.1C772.48 265.1 775.2 261.5 777.7 258.3C780.2 255.1 782.15 252.83 784.7 249.9C787.25 246.97 790.23 243.4 793 240.7C795.77 238 798.52 235.57 801.3 233.7C804.08 231.83 806.92 230.37 809.7 229.5C812.48 228.63 816.62 228.67 818 228.5" stroke="#00f" stroke-dasharray="7.5 6.17" stroke-dashoffset="0"/>
<path d="M586.5 1.1C587.33 2.63 589.27 6.23 591.5 10.3C593.73 14.37 597.6 21.5 599.9 25.5C602.2 29.5 603.3 31.1 605.3 34.3C607.3 37.5 609.57 40.7 611.9 44.7C614.23 48.7 617.3 54.83 619.3 58.3C621.3 61.77 622.27 63.03 623.9 65.5C625.53 67.97 627.37 70.6 629.1 73.1C630.83 75.6 632.57 78.17 634.3 80.5C636.03 82.83 637.77 85.03 639.5 87.1C641.23 89.17 642.97 91.17 644.7 92.9C646.43 94.63 648 96 649.9 97.5C651.8 99 654.03 100.8 656.1 101.9C658.17 103 660.57 103.87 662.3 104.1C664.03 104.33 665.28 104.07 666.5 103.3C667.72 102.53 668.57 101.33 669.6 99.5C670.63 97.67 671.67 94.87 672.7 92.3C673.73 89.73 674.77 86.83 675.8 84.1C676.83 81.37 677.87 78.67 678.9 75.9C679.93 73.13 680.87 70.43 682 67.5C683.13 64.57 683.65 63.83 685.7 58.3C687.75 52.77 691.63 42.3 694.3 34.3C696.97 26.3 700 15.97 701.7 10.3C703.4 4.63 704.03 1.97 704.5 0.3" stroke="#00f" stroke-dasharray="7.5 6.17" stroke-dashoffset="0"/>
<path d="M637.5 0.3C637.83 1.97 638.58 6.63 639.5 10.3C640.42 13.97 641.87 18.3 643 22.3C644.13 26.3 645.12 30.17 646.3 34.3C647.48 38.43 648.9 43.1 650.1 47.1C651.3 51.1 652.5 55.6 653.5 58.3C654.5 61 655.15 61.7 656.1 63.3C657.05 64.9 658.17 66.9 659.2 67.9C660.23 68.9 661.27 69.3 662.3 69.3C663.33 69.3 664.37 68.73 665.4 67.9C666.43 67.07 667.37 65.9 668.5 64.3C669.63 62.7 670.87 60.9 672.2 58.3C673.53 55.7 674.58 52.7 676.5 48.7C678.42 44.7 680.95 40.7 683.7 34.3C686.45 27.9 690.87 15.97 693 10.3C695.13 4.63 695.92 1.97 696.5 0.3" stroke="#00f" stroke-dasharray="7.5 6.17" stroke-dashoffset="0"/>
<path d="M749 2.3C749.58 3.6 751.33 7.9 752.5 10.1C753.67 12.3 754.85 13.53 756 15.5C757.15 17.47 757.93 20.03 759.4 21.9C760.87 23.77 762.93 25.27 764.8 26.7C766.67 28.13 768.52 29.37 770.6 30.5C772.68 31.63 775.07 32.93 777.3 33.5C779.52 34.07 781.73 34.1 783.95 33.9C786.17 33.7 788.66 33.1 790.6 32.3C792.54 31.5 793.93 30.43 795.6 29.1C797.27 27.77 799.07 26.13 800.6 24.3C802.13 22.47 803.41 20.03 804.8 18.1C806.19 16.17 807.98 14.03 808.95 12.7C809.92 11.37 809.93 11.83 810.6 10.1C811.27 8.37 812.6 3.6 813 2.3" stroke="#00f" stroke-dasharray="7.5 6.17" stroke-dashoffset="0"/>
</g>
<g class="k" text-anchor="end">
<text x="544.5" y="240">0</text>
<text x="544.5" y="199.95">10</text>
<text x="544.5" y="159.9">20</text>
<text x="544.5" y="119.85">30</text>
<text x="544.5" y="79.8">40</text>
<text x="544.5" y="39.75">50</text>
</g>
<text font-size="17.5" font-style="italic" transform="translate(523 150.45) rotate(-90) scale(1.22 1.06)">ε</text>
<text font-size="16.3" transform="translate(523 139.25) rotate(-90)">(meV)</text>
<text font-size="16.5" x="545.5" y="253.7" font-style="italic">K</text>
<path d="M545.2 238.65h10.8" stroke="#000" stroke-width="1.45"/>
<text class="t" x="556.1" y="253.3">'</text>
<text class="t" transform="translate(658.8 253.3) scale(1.21 1.04)">Γ</text>
<path d="M659.05 238.8h10.4" stroke="#000" stroke-width="1.5"/>
<text font-size="17.3" x="750.5" y="254.25" font-style="italic">M</text>
<path d="M750.7 238.65h14.2" stroke="#000" stroke-width="1.45"/>
<text font-size="16.5" x="812.5" y="253.7" font-style="italic">K</text>
<path d="M812.2 238.65h10.8" stroke="#000" stroke-width="1.45"/>
<path d="M598.55 22.35h8.6M598.55 25.5h8.6" stroke="#000" stroke-width="1.2"/>
<path d="M640.75 22.35h8.6M640.75 25.5h8.6" stroke="#000" stroke-width="1.2"/>
<text class="u"><tspan x="560.55" y="28.8">(c)</tspan><tspan x="582.9" y="28.8">Δ</tspan><tspan x="593.75" y="32.5" font-size="10.8" font-style="italic">s</tspan><tspan x="607.6" y="28.8">0</tspan><tspan x="616.3" y="28.8">,</tspan><tspan x="624.5" y="28.8">Δ</tspan><tspan x="635.35" y="32.5" font-size="10.8" font-style="italic">v</tspan><tspan x="649.6" y="28.8">6</tspan><tspan x="662.86" y="28.8">me</tspan><tspan x="682.7" y="28.8">V</tspan></text>
<clipPath id="dd"><rect x="830" y="33.55" width="133.45" height="200.65"/></clipPath>
<g stroke="#111" stroke-width="1" fill="none">
<rect x="830.5" y="33.55" width="132.95" height="200.35"/>
<path d="M830.5 213.87h2.5M963.45 213.87h-2.5M830.5 193.83h4.2M963.45 193.83h-4.2M830.5 173.79h2.5M963.45 173.79h-2.5M830.5 153.76h4.2M963.45 153.76h-4.2M830.5 133.72h2.5M963.45 133.72h-2.5M830.5 113.69h4.2M963.45 113.69h-4.2M830.5 93.65h2.5M963.45 93.65h-2.5M830.5 73.62h4.2M963.45 73.62h-4.2M830.5 53.58h2.5M963.45 53.58h-2.5M849.49 233.9v-2.2M849.49 33.55v2.2M868.49 233.9v-4M868.49 33.55v4M887.48 233.9v-2.2M887.48 33.55v2.2M906.47 233.9v-4M906.47 33.55v4M925.46 233.9v-2.2M925.46 33.55v2.2M944.46 233.9v-4M944.46 33.55v4"/>
</g>
<g clip-path="url(#dd)" fill="none" stroke-width="1.55" stroke-linejoin="round">
<path d="M835.39 34.3L835.13 37.62L834.68 41.62L835.25 45.62L835.06 49.62L836.01 53.62L834.49 57.62L831.83 61.62L830.5 65.62L830.5 69.62L830.5 73.62L830.5 77.62L830.5 81.62L830.5 85.62L830.5 89.62L830.5 93.62L887.67 97.62L869.51 101.62L855 105.62L849.87 109.62L847.97 113.62L847.21 117.62L850.44 121.62L845.69 125.62L842.47 129.62L840.57 133.62L839.39 137.62L830.5 141.62L830.5 145.62L830.5 149.62L830.5 153.62L830.5 157.62L830.5 161.62L830.5 165.62L830.5 169.62L830.5 173.62L830.5 177.62L834.68 181.62L835.25 185.62L835.63 189.62L836.01 193.62L836.27 197.62L836.58 201.62L836.88 205.62L837.15 209.62L837.34 213.62L837.64 217.62L837.95 221.62L838.4 225.62L838.86 229.62L839.43 233.62L839.52 234.3" stroke="#f00"/>
<path d="M835.39 34.3L835.13 37.62L834.68 41.62L835.25 45.62L835.06 49.62L836.01 53.62L834.49 57.62L831.83 61.62L830.5 65.62L830.5 69.62L830.5 73.62L830.5 77.62L830.5 81.62L830.5 85.62L830.5 89.62L830.5 93.62L887.67 97.62L869.51 101.62L855 105.62L849.87 109.62L847.97 113.62L847.21 117.62L850.44 121.62L845.69 125.62L842.47 129.62L840.57 133.62L839.39 137.62L830.5 141.62L830.5 145.62L830.5 149.62L830.5 153.62L830.5 157.62L830.5 161.62L830.5 165.62L830.5 169.62L830.5 173.62L830.5 177.62L834.68 181.62L835.25 185.62L835.63 189.62L836.01 193.62L836.27 197.62L836.58 201.62L836.88 205.62L837.15 209.62L837.34 213.62L837.64 217.62L837.95 221.62L838.4 225.62L838.86 229.62L839.43 233.62L839.52 234.3" stroke="#f00" stroke-dasharray="7.5 6.17" stroke-dashoffset="0"/>
<path d="M840.37 34.3L840 37.62L839.62 41.62L839.24 45.62L838.86 49.62L838.48 53.62L837.72 57.62L838.1 61.62L836.39 65.62L836.46 69.62L836.2 73.62L835.82 77.62L835.44 81.62L835.13 85.62L834.68 89.62L835.25 93.62L835.06 97.62L836.01 101.62L834.49 105.62L831.83 109.62L830.5 113.62L830.5 117.62L830.5 121.62L830.5 125.62L830.5 129.62L830.5 133.62L830.5 137.62L830.5 141.62L887.67 145.62L869.51 149.62L855 153.62L849.87 157.62L847.97 161.62L847.21 165.62L850.44 169.62L845.69 173.62L842.47 177.62L840.57 181.62L839.39 185.62L830.5 189.62L830.5 193.62L830.5 197.62L830.5 201.62L830.5 205.62L830.5 209.62L830.5 213.62L830.5 217.62L830.5 221.62L830.5 225.62L834.68 229.62L835.25 233.62L835.31 234.3" stroke="#00f"/>
<path d="M840.37 34.3L840 37.62L839.62 41.62L839.24 45.62L838.86 49.62L838.48 53.62L837.72 57.62L838.1 61.62L836.39 65.62L836.46 69.62L836.2 73.62L835.82 77.62L835.44 81.62L835.13 85.62L834.68 89.62L835.25 93.62L835.06 97.62L836.01 101.62L834.49 105.62L831.83 109.62L830.5 113.62L830.5 117.62L830.5 121.62L830.5 125.62L830.5 129.62L830.5 133.62L830.5 137.62L830.5 141.62L887.67 145.62L869.51 149.62L855 153.62L849.87 157.62L847.97 161.62L847.21 165.62L850.44 169.62L845.69 173.62L842.47 177.62L840.57 181.62L839.39 185.62L830.5 189.62L830.5 193.62L830.5 197.62L830.5 201.62L830.5 205.62L830.5 209.62L830.5 213.62L830.5 217.62L830.5 221.62L830.5 225.62L834.68 229.62L835.25 233.62L835.31 234.3" stroke="#00f" stroke-dasharray="7.5 6.17" stroke-dashoffset="0"/>
<path d="M860.02 34.3L858.76 37.62L857.09 41.62L857.47 45.62L856.33 49.62L857.47 53.62L852.91 57.62L848.35 61.62L842.28 65.62L842.43 69.62L841.9 73.62L841.14 77.62L840.38 81.62L839.77 85.62L838.86 89.62L840 93.62L953.95 97.62L919.54 101.62L887.48 105.62L871.9 109.62L865.45 113.62L863.93 117.62L870.38 121.62L860.89 125.62L854.43 129.62L850.63 133.62L848.28 137.62L830.5 141.62L944.84 145.62L908.52 149.62L879.5 153.62L869.25 157.62L865.45 161.62L863.93 165.62L870.38 169.62L860.89 173.62L854.43 177.62L858.99 181.62L857.77 185.62L840.76 189.62L841.52 193.62L842.05 197.62L842.66 201.62L843.26 205.62L843.79 209.62L844.17 213.62L844.78 217.62L845.39 221.62L846.3 225.62L855.57 229.62L857.85 233.62L858.17 234.3" stroke="#000" stroke-width="1.75"/>
</g>
<g class="k" text-anchor="middle">
<text x="830.3" y="250.85">0</text>
<text x="868.29" y="250.85">1</text>
<text x="906.27" y="250.85">2</text>
<text x="944.26" y="250.85">3</text>
</g>
<text class="u" x="855.7" y="266.1">DOS (×10<tspan font-size="10.5" dy="-6.3">-4</tspan><tspan dy="6.3" dx="0.6">)</tspan></text>
<text font-size="16.2" x="840.7" y="28.55">(d)</text>
<clipPath id="ce"><rect x="70.1" y="293.35" width="270.3" height="200.75"/></clipPath>
<g stroke="#111" stroke-width="1" fill="none">
<rect x="70.5" y="293.45" width="269.5" height="200.15"/>
<path d="M70.5 473.59h2.5M340 473.59h-2.5M70.5 453.57h4.2M340 453.57h-4.2M70.5 433.56h2.5M340 433.56h-2.5M70.5 413.54h4.2M340 413.54h-4.2M70.5 393.52h2.5M340 393.52h-2.5M70.5 373.51h4.2M340 373.51h-4.2M70.5 353.5h2.5M340 353.5h-2.5M70.5 333.48h4.2M340 333.48h-4.2M70.5 313.46h2.5M340 313.46h-2.5"/>
</g>
<g stroke="#000" fill="none">
<path d="M184.25 293.6V493.6" stroke-width="1.9" stroke-dasharray="2.5 5.63"/>
<path d="M277.5 293.6V493.6" stroke-width="1.9" stroke-dasharray="2.5 5.63"/>
<path d="M71.05 400.3H340" stroke-width="1.8" stroke-dasharray="2.3 5.83"/>
</g>
<g clip-path="url(#ce)" fill="none" stroke-width="1.62" stroke-linejoin="round">
<path d="M70.5 357.6C71.47 357.62 73.93 357.48 76.3 357.7C78.67 357.92 81.92 358.28 84.7 358.9C87.48 359.52 90.23 360.3 93 361.4C95.77 362.5 98.52 363.83 101.3 365.5C104.08 367.17 106.92 369.24 109.7 371.4C112.48 373.56 115.23 376.1 118 378.45C120.77 380.8 123.67 383.34 126.3 385.5C128.93 387.66 131.23 389.78 133.8 391.4C136.37 393.02 139.63 394.43 141.7 395.2C143.77 395.97 144.53 396.05 146.2 396C147.87 395.95 149.68 395.87 151.7 394.9C153.72 393.93 156.08 392.37 158.3 390.2C160.52 388.03 163.38 384.23 165 381.9C166.62 379.57 167.01 378.08 168 376.2C168.99 374.32 169.98 372.47 170.96 370.6C171.94 368.73 172.91 366.83 173.9 365C174.89 363.17 175.91 361.1 176.9 359.6C177.89 358.1 178.97 356.83 179.85 356C180.73 355.17 181.46 354.9 182.2 354.6C182.94 354.3 183.5 354.25 184.3 354.2C185.1 354.15 186.07 353.98 187 354.3C187.93 354.62 188.92 355.26 189.9 356.1C190.88 356.94 191.91 358.17 192.9 359.35C193.89 360.53 194.87 361.92 195.85 363.2C196.83 364.48 198.11 366.17 198.8 367.05C199.49 367.93 199.18 367.51 200 368.5C200.82 369.49 202.47 371.7 203.7 373C204.93 374.3 206.17 375.35 207.4 376.3C208.63 377.25 209.87 378.02 211.1 378.7C212.33 379.38 213.57 379.98 214.8 380.4C216.03 380.82 217.27 381.02 218.5 381.2C219.73 381.38 220.97 381.5 222.2 381.5C223.43 381.5 224.67 381.38 225.9 381.2C227.13 381.02 228.37 380.76 229.6 380.4C230.83 380.04 232.07 379.52 233.3 379.05C234.53 378.58 235.78 378.12 237 377.6C238.22 377.08 239.22 376.65 240.6 375.9C241.98 375.15 243.75 374.1 245.3 373.1C246.85 372.1 248.37 370.98 249.9 369.9C251.43 368.82 252.97 367.63 254.5 366.6C256.03 365.57 257.55 364.57 259.1 363.7C260.65 362.83 262.25 362.07 263.8 361.4C265.35 360.73 266.87 360.18 268.4 359.7C269.93 359.22 271.45 358.81 273 358.5C274.55 358.19 276.15 358 277.7 357.85C279.25 357.7 280.92 357.64 282.3 357.6C283.68 357.56 283.88 357.62 286 357.6C288.12 357.58 290.72 357.57 295 357.5C299.28 357.43 306.7 357.42 311.7 357.2C316.7 356.98 320.28 356.5 325 356.2C329.72 355.9 337.5 355.53 340 355.4" stroke="#f00"/>
<path d="M70.5 439.62C71.22 439.75 73.33 439.93 74.8 440.38C76.27 440.83 77.82 441.56 79.3 442.3C80.78 443.04 81.98 443.79 83.7 444.82C85.42 445.85 87.62 447.12 89.6 448.5C91.58 449.88 93.92 451.87 95.6 453.1C97.28 454.33 98.05 454.6 99.7 455.9C101.35 457.2 103.47 459 105.5 460.9C107.53 462.8 109.17 464.28 111.9 467.3C114.63 470.32 118.57 475.1 121.9 479C125.23 482.9 128.57 487.08 131.9 490.7C135.23 494.32 138.57 497.78 141.9 500.7C145.23 503.62 148.57 506.12 151.9 508.2C155.23 510.28 158.57 511.9 161.9 513.2C165.23 514.5 168.13 515.33 171.9 516C175.67 516.67 180.62 517.17 184.5 517.2C188.38 517.23 192.25 516.6 195.2 516.2C198.15 515.8 199.37 515.67 202.2 514.8C205.03 513.93 208.32 512.67 212.2 511C216.08 509.33 221.05 506.75 225.5 504.8C229.95 502.85 234.45 500.85 238.9 499.3C243.35 497.75 247.77 496.43 252.2 495.5C256.63 494.57 261.28 494.21 265.5 493.75C269.72 493.29 274.5 492.93 277.5 492.75C280.5 492.57 282.5 492.71 283.5 492.7" stroke="#f00"/>
<path d="M283.5 492.7L298.5 517.5L313.5 542.3" stroke="#f00"/>
<path d="M85.5 237.5C87.12 238.83 92.07 242.97 95.2 245.5C98.33 248.03 100.8 250.23 104.3 252.7C107.8 255.17 113.17 258.4 116.2 260.3C119.23 262.2 120.6 262.87 122.5 264.1C124.4 265.33 126.38 266.8 127.6 267.7C128.82 268.6 129.03 268.8 129.85 269.5C130.67 270.2 131.51 271 132.5 271.9C133.49 272.8 134.37 273.5 135.8 274.9C137.23 276.3 139.32 278.47 141.1 280.3C142.88 282.13 144.7 284 146.5 285.9C148.3 287.8 150.13 289.9 151.9 291.7C153.67 293.5 155.37 295 157.1 296.7C158.83 298.4 160.6 300.23 162.3 301.9C164 303.57 165.63 305.23 167.3 306.7C168.97 308.17 170.5 309.5 172.3 310.7C174.1 311.9 176.1 313.1 178.1 313.9C180.1 314.7 182.23 315.2 184.3 315.5C186.37 315.8 188.77 315.5 190.5 315.7C192.23 315.9 192.97 316.07 194.7 316.7C196.43 317.33 198.65 318.8 200.9 319.5C203.15 320.2 205.85 320.77 208.2 320.9C210.55 321.03 212.48 321.17 215 320.3C217.52 319.43 220.25 318 223.3 315.7C226.35 313.4 229.97 309.97 233.3 306.5C236.63 303.03 239.97 299.2 243.3 294.9C246.63 290.6 250.3 284.93 253.3 280.7C256.3 276.47 258.8 273.37 261.3 269.5C263.8 265.63 265.73 261.5 268.3 257.5C270.87 253.5 274 249.23 276.7 245.5C279.4 241.77 283.2 236.83 284.5 235.1" stroke="#f00"/>
<path d="M159.5 211.5C159.83 213.17 160.58 217.83 161.5 221.5C162.42 225.17 163.87 229.5 165 233.5C166.13 237.5 167.12 241.37 168.3 245.5C169.48 249.63 170.9 254.3 172.1 258.3C173.3 262.3 174.5 266.8 175.5 269.5C176.5 272.2 177.15 272.9 178.1 274.5C179.05 276.1 180.17 278.1 181.2 279.1C182.23 280.1 183.33 280.5 184.3 280.5C185.27 280.5 186.13 279.93 187 279.1C187.87 278.27 188.65 277.1 189.5 275.5C190.35 273.9 191.35 271.33 192.1 269.5C192.85 267.67 192.78 268.5 194 264.5C195.22 260.5 197.98 250.67 199.4 245.5C200.82 240.33 201.98 235.5 202.5 233.5" stroke="#f00"/>
<path d="M70.5 405.6C71.47 405.62 73.93 405.48 76.3 405.7C78.67 405.92 81.92 406.28 84.7 406.9C87.48 407.52 90.23 408.3 93 409.4C95.77 410.5 98.52 411.83 101.3 413.5C104.08 415.17 106.92 417.24 109.7 419.4C112.48 421.56 115.23 424.1 118 426.45C120.77 428.8 123.67 431.34 126.3 433.5C128.93 435.66 131.23 437.78 133.8 439.4C136.37 441.02 139.63 442.43 141.7 443.2C143.77 443.97 144.53 444.05 146.2 444C147.87 443.95 149.68 443.87 151.7 442.9C153.72 441.93 156.08 440.37 158.3 438.2C160.52 436.03 163.38 432.23 165 429.9C166.62 427.57 167.01 426.08 168 424.2C168.99 422.32 169.98 420.47 170.96 418.6C171.94 416.73 172.91 414.83 173.9 413C174.89 411.17 175.91 409.1 176.9 407.6C177.89 406.1 178.97 404.83 179.85 404C180.73 403.17 181.46 402.9 182.2 402.6C182.94 402.3 183.5 402.25 184.3 402.2C185.1 402.15 186.07 401.98 187 402.3C187.93 402.62 188.92 403.26 189.9 404.1C190.88 404.94 191.91 406.17 192.9 407.35C193.89 408.53 194.87 409.92 195.85 411.2C196.83 412.48 198.11 414.17 198.8 415.05C199.49 415.93 199.18 415.51 200 416.5C200.82 417.49 202.47 419.7 203.7 421C204.93 422.3 206.17 423.35 207.4 424.3C208.63 425.25 209.87 426.02 211.1 426.7C212.33 427.38 213.57 427.98 214.8 428.4C216.03 428.82 217.27 429.02 218.5 429.2C219.73 429.38 220.97 429.5 222.2 429.5C223.43 429.5 224.67 429.38 225.9 429.2C227.13 429.02 228.37 428.76 229.6 428.4C230.83 428.04 232.07 427.52 233.3 427.05C234.53 426.58 235.78 426.12 237 425.6C238.22 425.08 239.22 424.65 240.6 423.9C241.98 423.15 243.75 422.1 245.3 421.1C246.85 420.1 248.37 418.98 249.9 417.9C251.43 416.82 252.97 415.63 254.5 414.6C256.03 413.57 257.55 412.57 259.1 411.7C260.65 410.83 262.25 410.07 263.8 409.4C265.35 408.73 266.87 408.18 268.4 407.7C269.93 407.22 271.45 406.81 273 406.5C274.55 406.19 276.15 406 277.7 405.85C279.25 405.7 280.92 405.64 282.3 405.6C283.68 405.56 283.88 405.62 286 405.6C288.12 405.58 290.72 405.57 295 405.5C299.28 405.43 306.7 405.42 311.7 405.2C316.7 404.98 320.28 404.5 325 404.2C329.72 403.9 337.5 403.53 340 403.4" stroke="#f00" stroke-dasharray="7.5 6.17" stroke-dashoffset="0"/>
<path d="M70.5 487.62C71.22 487.75 73.33 487.93 74.8 488.38C76.27 488.83 77.82 489.56 79.3 490.3C80.78 491.04 81.98 491.79 83.7 492.82C85.42 493.85 87.62 495.12 89.6 496.5C91.58 497.88 93.92 499.87 95.6 501.1C97.28 502.33 98.05 502.6 99.7 503.9C101.35 505.2 103.47 507 105.5 508.9C107.53 510.8 109.17 512.28 111.9 515.3C114.63 518.32 118.57 523.1 121.9 527C125.23 530.9 128.57 535.08 131.9 538.7C135.23 542.32 138.57 545.78 141.9 548.7C145.23 551.62 148.57 554.12 151.9 556.2C155.23 558.28 158.57 559.9 161.9 561.2C165.23 562.5 168.13 563.33 171.9 564C175.67 564.67 180.62 565.17 184.5 565.2C188.38 565.23 192.25 564.6 195.2 564.2C198.15 563.8 199.37 563.67 202.2 562.8C205.03 561.93 208.32 560.67 212.2 559C216.08 557.33 221.05 554.75 225.5 552.8C229.95 550.85 234.45 548.85 238.9 547.3C243.35 545.75 247.77 544.42 252.2 543.5C256.63 542.58 261.28 542.21 265.5 541.75C269.72 541.29 274.5 540.92 277.5 540.75C280.5 540.58 282.5 540.71 283.5 540.7" stroke="#f00" stroke-dasharray="7.5 6.17" stroke-dashoffset="0"/>
<path d="M283.5 540.7L298.5 565.5L313.5 590.3" stroke="#f00" stroke-dasharray="7.5 6.17" stroke-dashoffset="0"/>
<path d="M85.5 285.5C87.12 286.83 92.07 290.97 95.2 293.5C98.33 296.03 100.8 298.23 104.3 300.7C107.8 303.17 113.17 306.4 116.2 308.3C119.23 310.2 120.6 310.87 122.5 312.1C124.4 313.33 126.38 314.8 127.6 315.7C128.82 316.6 129.03 316.8 129.85 317.5C130.67 318.2 131.51 319 132.5 319.9C133.49 320.8 134.37 321.5 135.8 322.9C137.23 324.3 139.32 326.47 141.1 328.3C142.88 330.13 144.7 332 146.5 333.9C148.3 335.8 150.13 337.9 151.9 339.7C153.67 341.5 155.37 343 157.1 344.7C158.83 346.4 160.6 348.23 162.3 349.9C164 351.57 165.63 353.23 167.3 354.7C168.97 356.17 170.5 357.5 172.3 358.7C174.1 359.9 176.1 361.1 178.1 361.9C180.1 362.7 182.23 363.2 184.3 363.5C186.37 363.8 188.77 363.5 190.5 363.7C192.23 363.9 192.97 364.07 194.7 364.7C196.43 365.33 198.65 366.8 200.9 367.5C203.15 368.2 205.85 368.77 208.2 368.9C210.55 369.03 212.48 369.17 215 368.3C217.52 367.43 220.25 366 223.3 363.7C226.35 361.4 229.97 357.97 233.3 354.5C236.63 351.03 239.97 347.2 243.3 342.9C246.63 338.6 250.3 332.93 253.3 328.7C256.3 324.47 258.8 321.37 261.3 317.5C263.8 313.63 265.73 309.5 268.3 305.5C270.87 301.5 274 297.23 276.7 293.5C279.4 289.77 283.2 284.83 284.5 283.1" stroke="#f00" stroke-dasharray="7.5 6.17" stroke-dashoffset="6.39"/>
<path d="M159.5 259.5C159.83 261.17 160.58 265.83 161.5 269.5C162.42 273.17 163.87 277.5 165 281.5C166.13 285.5 167.12 289.37 168.3 293.5C169.48 297.63 170.9 302.3 172.1 306.3C173.3 310.3 174.5 314.8 175.5 317.5C176.5 320.2 177.15 320.9 178.1 322.5C179.05 324.1 180.17 326.1 181.2 327.1C182.23 328.1 183.33 328.5 184.3 328.5C185.27 328.5 186.13 327.93 187 327.1C187.87 326.27 188.65 325.1 189.5 323.5C190.35 321.9 191.35 319.33 192.1 317.5C192.85 315.67 192.78 316.5 194 312.5C195.22 308.5 197.98 298.67 199.4 293.5C200.82 288.33 201.98 283.5 202.5 281.5" stroke="#f00" stroke-dasharray="7.5 6.17" stroke-dashoffset="6.08"/>
<path d="M70.5 355.8C71.47 355.78 73.93 355.58 76.3 355.7C78.67 355.82 81.92 355.97 84.7 356.5C87.48 357.03 90.23 357.95 93 358.9C95.77 359.85 98.52 360.88 101.3 362.2C104.08 363.52 106.92 365.07 109.7 366.8C112.48 368.53 115.23 370.58 118 372.6C120.77 374.62 123.52 376.88 126.3 378.9C129.08 380.92 132.2 383.11 134.7 384.7C137.2 386.29 138.88 387.53 141.3 388.45C143.72 389.37 146.92 390.19 149.2 390.2C151.48 390.21 152.92 389.75 155 388.5C157.08 387.25 160.03 384.32 161.7 382.7C163.37 381.08 163.95 380.22 165 378.8C166.05 377.38 167.01 375.83 168 374.16C168.99 372.49 169.98 370.58 170.96 368.8C171.94 367.02 172.91 365.18 173.9 363.5C174.89 361.82 175.91 360.08 176.9 358.75C177.89 357.42 178.97 356.23 179.85 355.5C180.73 354.77 181.46 354.65 182.2 354.4C182.94 354.15 183.6 354.03 184.3 354C185 353.97 185.67 353.9 186.4 354.2C187.13 354.5 187.82 354.85 188.7 355.8C189.58 356.75 190.7 358.27 191.7 359.9C192.7 361.53 193.72 363.57 194.7 365.6C195.68 367.63 196.72 370.12 197.6 372.1C198.48 374.08 198.98 375.23 200 377.5C201.02 379.77 202.47 383.32 203.7 385.7C204.93 388.08 206.17 390.12 207.4 391.8C208.63 393.48 209.83 394.77 211.1 395.8C212.37 396.83 213.65 397.48 215 398C216.35 398.52 217.53 399.05 219.2 398.9C220.87 398.75 222.92 398.27 225 397.1C227.08 395.93 229.87 393.43 231.7 391.9C233.53 390.37 234.52 389.41 236 387.9C237.48 386.39 239.05 384.54 240.6 382.85C242.15 381.16 243.75 379.44 245.3 377.75C246.85 376.06 248.37 374.32 249.9 372.7C251.43 371.07 252.97 369.4 254.5 368C256.03 366.6 257.55 365.37 259.1 364.3C260.65 363.22 262.25 362.32 263.8 361.55C265.35 360.78 266.87 360.21 268.4 359.7C269.93 359.19 271.45 358.81 273 358.5C274.55 358.19 276.15 357.98 277.7 357.85C279.25 357.72 280.92 357.72 282.3 357.7C283.68 357.68 283.88 357.73 286 357.75C288.12 357.77 290.72 357.76 295 357.8C299.28 357.84 306.15 358.05 311.7 358C317.25 357.95 323.58 357.63 328.3 357.5C333.02 357.37 338.05 357.25 340 357.2" stroke="#00f"/>
<path d="M275.5 505.5C276.75 503.5 280.3 497.7 283 493.5C285.7 489.3 288.92 484.3 291.7 480.3C294.48 476.3 297.2 472.7 299.7 469.5C302.2 466.3 304.15 464.03 306.7 461.1C309.25 458.17 312.23 454.6 315 451.9C317.77 449.2 320.52 446.77 323.3 444.9C326.08 443.03 328.92 441.57 331.7 440.7C334.48 439.83 338.62 439.87 340 439.7" stroke="#00f"/>
<path d="M108.5 212.3C109.33 213.83 111.27 217.43 113.5 221.5C115.73 225.57 119.6 232.7 121.9 236.7C124.2 240.7 125.3 242.3 127.3 245.5C129.3 248.7 131.57 251.9 133.9 255.9C136.23 259.9 139.3 266.03 141.3 269.5C143.3 272.97 144.27 274.23 145.9 276.7C147.53 279.17 149.37 281.8 151.1 284.3C152.83 286.8 154.57 289.37 156.3 291.7C158.03 294.03 159.77 296.23 161.5 298.3C163.23 300.37 164.97 302.37 166.7 304.1C168.43 305.83 170 307.2 171.9 308.7C173.8 310.2 176.03 312 178.1 313.1C180.17 314.2 182.57 315.07 184.3 315.3C186.03 315.53 187.28 315.27 188.5 314.5C189.72 313.73 190.57 312.53 191.6 310.7C192.63 308.87 193.67 306.07 194.7 303.5C195.73 300.93 196.77 298.03 197.8 295.3C198.83 292.57 199.87 289.87 200.9 287.1C201.93 284.33 202.87 281.63 204 278.7C205.13 275.77 205.65 275.03 207.7 269.5C209.75 263.97 213.63 253.5 216.3 245.5C218.97 237.5 222 227.17 223.7 221.5C225.4 215.83 226.03 213.17 226.5 211.5" stroke="#00f"/>
<path d="M159.5 211.5C159.83 213.17 160.58 217.83 161.5 221.5C162.42 225.17 163.87 229.5 165 233.5C166.13 237.5 167.12 241.37 168.3 245.5C169.48 249.63 170.9 254.3 172.1 258.3C173.3 262.3 174.5 266.8 175.5 269.5C176.5 272.2 177.15 272.9 178.1 274.5C179.05 276.1 180.17 278.1 181.2 279.1C182.23 280.1 183.27 280.5 184.3 280.5C185.33 280.5 186.37 279.93 187.4 279.1C188.43 278.27 189.37 277.1 190.5 275.5C191.63 273.9 192.87 272.1 194.2 269.5C195.53 266.9 196.58 263.9 198.5 259.9C200.42 255.9 202.95 251.9 205.7 245.5C208.45 239.1 212.87 227.17 215 221.5C217.13 215.83 217.92 213.17 218.5 211.5" stroke="#00f"/>
<path d="M271 213.5C271.58 214.8 273.33 219.1 274.5 221.3C275.67 223.5 276.85 224.73 278 226.7C279.15 228.67 279.93 231.23 281.4 233.1C282.87 234.97 284.93 236.47 286.8 237.9C288.67 239.33 290.52 240.57 292.6 241.7C294.68 242.83 297.08 244.13 299.3 244.7C301.52 245.27 303.73 245.3 305.95 245.1C308.17 244.9 310.66 244.3 312.6 243.5C314.54 242.7 315.93 241.63 317.6 240.3C319.27 238.97 321.07 237.33 322.6 235.5C324.13 233.67 325.41 231.23 326.8 229.3C328.19 227.37 329.98 225.23 330.95 223.9C331.92 222.57 331.93 223.03 332.6 221.3C333.28 219.57 334.6 214.8 335 213.5" stroke="#00f"/>
<path d="M70.5 403.8C71.47 403.78 73.93 403.58 76.3 403.7C78.67 403.82 81.92 403.97 84.7 404.5C87.48 405.03 90.23 405.95 93 406.9C95.77 407.85 98.52 408.88 101.3 410.2C104.08 411.52 106.92 413.07 109.7 414.8C112.48 416.53 115.23 418.58 118 420.6C120.77 422.62 123.52 424.88 126.3 426.9C129.08 428.92 132.2 431.11 134.7 432.7C137.2 434.29 138.88 435.53 141.3 436.45C143.72 437.37 146.92 438.19 149.2 438.2C151.48 438.21 152.92 437.75 155 436.5C157.08 435.25 160.03 432.32 161.7 430.7C163.37 429.08 163.95 428.22 165 426.8C166.05 425.38 167.01 423.83 168 422.16C168.99 420.49 169.98 418.58 170.96 416.8C171.94 415.02 172.91 413.18 173.9 411.5C174.89 409.82 175.91 408.08 176.9 406.75C177.89 405.42 178.97 404.23 179.85 403.5C180.73 402.77 181.46 402.65 182.2 402.4C182.94 402.15 183.6 402.03 184.3 402C185 401.97 185.67 401.9 186.4 402.2C187.13 402.5 187.82 402.85 188.7 403.8C189.58 404.75 190.7 406.27 191.7 407.9C192.7 409.53 193.72 411.57 194.7 413.6C195.68 415.63 196.72 418.12 197.6 420.1C198.48 422.08 198.98 423.23 200 425.5C201.02 427.77 202.47 431.32 203.7 433.7C204.93 436.08 206.17 438.12 207.4 439.8C208.63 441.48 209.83 442.77 211.1 443.8C212.37 444.83 213.65 445.48 215 446C216.35 446.52 217.53 447.05 219.2 446.9C220.87 446.75 222.92 446.27 225 445.1C227.08 443.93 229.87 441.43 231.7 439.9C233.53 438.37 234.52 437.41 236 435.9C237.48 434.39 239.05 432.54 240.6 430.85C242.15 429.16 243.75 427.44 245.3 425.75C246.85 424.06 248.37 422.32 249.9 420.7C251.43 419.07 252.97 417.4 254.5 416C256.03 414.6 257.55 413.37 259.1 412.3C260.65 411.22 262.25 410.32 263.8 409.55C265.35 408.78 266.87 408.21 268.4 407.7C269.93 407.19 271.45 406.81 273 406.5C274.55 406.19 276.15 405.98 277.7 405.85C279.25 405.72 280.92 405.72 282.3 405.7C283.68 405.68 283.88 405.73 286 405.75C288.12 405.77 290.72 405.76 295 405.8C299.28 405.84 306.15 406.05 311.7 406C317.25 405.95 323.58 405.63 328.3 405.5C333.02 405.37 338.05 405.25 340 405.2" stroke="#00f" stroke-dasharray="7.5 6.17" stroke-dashoffset="0"/>
<path d="M275.5 553.5C276.75 551.5 280.3 545.7 283 541.5C285.7 537.3 288.92 532.3 291.7 528.3C294.48 524.3 297.2 520.7 299.7 517.5C302.2 514.3 304.15 512.03 306.7 509.1C309.25 506.17 312.23 502.6 315 499.9C317.77 497.2 320.52 494.77 323.3 492.9C326.08 491.03 328.92 489.57 331.7 488.7C334.48 487.83 338.62 487.87 340 487.7" stroke="#00f" stroke-dasharray="7.5 6.17" stroke-dashoffset="0"/>
<path d="M108.5 260.3C109.33 261.83 111.27 265.43 113.5 269.5C115.73 273.57 119.6 280.7 121.9 284.7C124.2 288.7 125.3 290.3 127.3 293.5C129.3 296.7 131.57 299.9 133.9 303.9C136.23 307.9 139.3 314.03 141.3 317.5C143.3 320.97 144.27 322.23 145.9 324.7C147.53 327.17 149.37 329.8 151.1 332.3C152.83 334.8 154.57 337.37 156.3 339.7C158.03 342.03 159.77 344.23 161.5 346.3C163.23 348.37 164.97 350.37 166.7 352.1C168.43 353.83 170 355.2 171.9 356.7C173.8 358.2 176.03 360 178.1 361.1C180.17 362.2 182.57 363.07 184.3 363.3C186.03 363.53 187.28 363.27 188.5 362.5C189.72 361.73 190.57 360.53 191.6 358.7C192.63 356.87 193.67 354.07 194.7 351.5C195.73 348.93 196.77 346.03 197.8 343.3C198.83 340.57 199.87 337.87 200.9 335.1C201.93 332.33 202.87 329.63 204 326.7C205.13 323.77 205.65 323.03 207.7 317.5C209.75 311.97 213.63 301.5 216.3 293.5C218.97 285.5 222 275.17 223.7 269.5C225.4 263.83 226.03 261.17 226.5 259.5" stroke="#00f" stroke-dasharray="7.5 6.17" stroke-dashoffset="9.16"/>
<path d="M159.5 259.5C159.83 261.17 160.58 265.83 161.5 269.5C162.42 273.17 163.87 277.5 165 281.5C166.13 285.5 167.12 289.37 168.3 293.5C169.48 297.63 170.9 302.3 172.1 306.3C173.3 310.3 174.5 314.8 175.5 317.5C176.5 320.2 177.15 320.9 178.1 322.5C179.05 324.1 180.17 326.1 181.2 327.1C182.23 328.1 183.27 328.5 184.3 328.5C185.33 328.5 186.37 327.93 187.4 327.1C188.43 326.27 189.37 325.1 190.5 323.5C191.63 321.9 192.87 320.1 194.2 317.5C195.53 314.9 196.58 311.9 198.5 307.9C200.42 303.9 202.95 299.9 205.7 293.5C208.45 287.1 212.87 275.17 215 269.5C217.13 263.83 217.92 261.17 218.5 259.5" stroke="#00f" stroke-dasharray="7.5 6.17" stroke-dashoffset="12.88"/>
<path d="M271 261.5C271.58 262.8 273.33 267.1 274.5 269.3C275.67 271.5 276.85 272.73 278 274.7C279.15 276.67 279.93 279.23 281.4 281.1C282.87 282.97 284.93 284.47 286.8 285.9C288.67 287.33 290.52 288.57 292.6 289.7C294.68 290.83 297.08 292.13 299.3 292.7C301.52 293.27 303.73 293.3 305.95 293.1C308.17 292.9 310.66 292.3 312.6 291.5C314.54 290.7 315.93 289.63 317.6 288.3C319.27 286.97 321.07 285.33 322.6 283.5C324.13 281.67 325.41 279.23 326.8 277.3C328.19 275.37 329.98 273.23 330.95 271.9C331.92 270.57 331.93 271.03 332.6 269.3C333.28 267.57 334.6 262.8 335 261.5" stroke="#00f" stroke-dasharray="7.5 6.17" stroke-dashoffset="0"/>
</g>
<g class="k" text-anchor="end">
<text x="66.5" y="499.15">0</text>
<text x="66.5" y="459.12">10</text>
<text x="66.5" y="419.09">20</text>
<text x="66.5" y="379.06">30</text>
<text x="66.5" y="339.03">40</text>
<text x="66.5" y="299">50</text>
</g>
<text font-size="17.5" font-style="italic" transform="translate(45 409.6) rotate(-90) scale(1.22 1.06)">ε</text>
<text font-size="16.3" transform="translate(45 398.4) rotate(-90)">(meV)</text>
<text font-size="16.5" x="68.1" y="512.3" font-style="italic">K</text>
<path d="M67.65 498.05h10.8" stroke="#000" stroke-width="1.45"/>
<text class="t" x="78.7" y="511.9">'</text>
<text class="t" transform="translate(180.8 512.45) scale(1.21 1.04)">Γ</text>
<path d="M181.05 498.2h10.4" stroke="#000" stroke-width="1.5"/>
<text font-size="17.3" x="272.5" y="513.4" font-style="italic">M</text>
<path d="M272.7 498.05h14.2" stroke="#000" stroke-width="1.45"/>
<text font-size="16.5" x="335.7" y="512.3" font-style="italic">K</text>
<path d="M335.25 498.05h10.8" stroke="#000" stroke-width="1.45"/>
<path d="M119.85 282.5h8.6M119.85 285.65h8.6" stroke="#000" stroke-width="1.2"/>
<path d="M198.95 282.5h8.6M198.95 285.65h8.6" stroke="#000" stroke-width="1.2"/>
<text class="u"><tspan x="81.9" y="288.95">(e)</tspan><tspan x="104.4" y="288.95">Δ</tspan><tspan x="115.1" y="292.65" font-size="10.8" font-style="italic">s</tspan><tspan x="128.3" y="288.95">6</tspan><tspan x="142" y="288.95">me</tspan><tspan x="162.2" y="288.95">V</tspan><tspan x="174.6" y="288.95">,</tspan><tspan x="182.6" y="288.95">Δ</tspan><tspan x="193.9" y="292.65" font-size="10.8" font-style="italic">v</tspan><tspan x="207.8" y="288.95">0</tspan></text>
<clipPath id="df"><rect x="352" y="292.8" width="133.45" height="200.55"/></clipPath>
<g stroke="#111" stroke-width="1" fill="none">
<rect x="352.5" y="292.8" width="132.95" height="200.25"/>
<path d="M352.5 473.03h2.5M485.45 473.03h-2.5M352.5 453h4.2M485.45 453h-4.2M352.5 432.98h2.5M485.45 432.98h-2.5M352.5 412.95h4.2M485.45 412.95h-4.2M352.5 392.93h2.5M485.45 392.93h-2.5M352.5 372.9h4.2M485.45 372.9h-4.2M352.5 352.88h2.5M485.45 352.88h-2.5M352.5 332.85h4.2M485.45 332.85h-4.2M352.5 312.83h2.5M485.45 312.83h-2.5M371.49 493.05v-2.2M371.49 292.8v2.2M390.49 493.05v-4M390.49 292.8v4M409.48 493.05v-2.2M409.48 292.8v2.2M428.47 493.05v-4M428.47 292.8v4M447.46 493.05v-2.2M447.46 292.8v2.2M466.46 493.05v-4M466.46 292.8v4"/>
</g>
<g clip-path="url(#df)" fill="none" stroke-width="1.55" stroke-linejoin="round">
<path d="M357.39 293.5L357.13 296.82L356.68 300.82L357.25 304.82L357.06 308.82L358.01 312.82L356.49 316.82L353.83 320.82L352.5 324.82L352.5 328.82L352.5 332.82L352.5 336.82L352.5 340.82L352.5 344.82L352.5 348.82L352.5 352.82L409.67 356.82L391.51 360.82L377 364.82L371.87 368.82L369.97 372.82L369.21 376.82L372.44 380.82L367.69 384.82L364.47 388.82L362.57 392.82L361.39 396.82L352.5 400.82L352.5 404.82L352.5 408.82L352.5 412.82L352.5 416.82L352.5 420.82L352.5 424.82L352.5 428.82L352.5 432.82L352.5 436.82L356.68 440.82L357.25 444.82L357.63 448.82L358.01 452.82L358.27 456.82L358.58 460.82L358.88 464.82L359.15 468.82L359.34 472.82L359.64 476.82L359.95 480.82L360.4 484.82L360.86 488.82L361.43 492.82L361.52 493.5" stroke="#f00"/>
<path d="M362.37 293.5L362 296.82L361.62 300.82L361.24 304.82L360.86 308.82L360.48 312.82L359.72 316.82L360.1 320.82L358.39 324.82L358.46 328.82L358.2 332.82L357.82 336.82L357.44 340.82L357.13 344.82L356.68 348.82L357.25 352.82L357.06 356.82L358.01 360.82L356.49 364.82L353.83 368.82L352.5 372.82L352.5 376.82L352.5 380.82L352.5 384.82L352.5 388.82L352.5 392.82L352.5 396.82L352.5 400.82L409.67 404.82L391.51 408.82L377 412.82L371.87 416.82L369.97 420.82L369.21 424.82L372.44 428.82L367.69 432.82L364.47 436.82L362.57 440.82L361.39 444.82L352.5 448.82L352.5 452.82L352.5 456.82L352.5 460.82L352.5 464.82L352.5 468.82L352.5 472.82L352.5 476.82L352.5 480.82L352.5 484.82L356.68 488.82L357.25 492.82L357.31 493.5" stroke="#f00" stroke-dasharray="7.5 6.17" stroke-dashoffset="7.64"/>
<path d="M357.39 293.5L357.13 296.82L356.68 300.82L357.25 304.82L357.06 308.82L358.01 312.82L356.49 316.82L353.83 320.82L352.5 324.82L352.5 328.82L352.5 332.82L352.5 336.82L352.5 340.82L352.5 344.82L352.5 348.82L352.5 352.82L409.67 356.82L391.51 360.82L377 364.82L371.87 368.82L369.97 372.82L369.21 376.82L372.44 380.82L367.69 384.82L364.47 388.82L362.57 392.82L361.39 396.82L352.5 400.82L352.5 404.82L352.5 408.82L352.5 412.82L352.5 416.82L352.5 420.82L352.5 424.82L352.5 428.82L352.5 432.82L352.5 436.82L356.68 440.82L357.25 444.82L357.63 448.82L358.01 452.82L358.27 456.82L358.58 460.82L358.88 464.82L359.15 468.82L359.34 472.82L359.64 476.82L359.95 480.82L360.4 484.82L360.86 488.82L361.43 492.82L361.52 493.5" stroke="#00f"/>
<path d="M362.37 293.5L362 296.82L361.62 300.82L361.24 304.82L360.86 308.82L360.48 312.82L359.72 316.82L360.1 320.82L358.39 324.82L358.46 328.82L358.2 332.82L357.82 336.82L357.44 340.82L357.13 344.82L356.68 348.82L357.25 352.82L357.06 356.82L358.01 360.82L356.49 364.82L353.83 368.82L352.5 372.82L352.5 376.82L352.5 380.82L352.5 384.82L352.5 388.82L352.5 392.82L352.5 396.82L352.5 400.82L409.67 404.82L391.51 408.82L377 412.82L371.87 416.82L369.97 420.82L369.21 424.82L372.44 428.82L367.69 432.82L364.47 436.82L362.57 440.82L361.39 444.82L352.5 448.82L352.5 452.82L352.5 456.82L352.5 460.82L352.5 464.82L352.5 468.82L352.5 472.82L352.5 476.82L352.5 480.82L352.5 484.82L356.68 488.82L357.25 492.82L357.31 493.5" stroke="#00f" stroke-dasharray="7.5 6.17" stroke-dashoffset="7.64"/>
<path d="M382.02 293.5L380.76 296.82L379.09 300.82L379.47 304.82L378.33 308.82L379.47 312.82L374.91 316.82L370.35 320.82L364.28 324.82L364.43 328.82L363.9 332.82L363.14 336.82L362.38 340.82L361.77 344.82L360.86 348.82L362 352.82L475.95 356.82L441.54 360.82L409.48 364.82L393.9 368.82L387.45 372.82L385.93 376.82L392.38 380.82L382.89 384.82L376.43 388.82L372.63 392.82L370.28 396.82L352.5 400.82L466.84 404.82L430.52 408.82L401.5 412.82L391.25 416.82L387.45 420.82L385.93 424.82L392.38 428.82L382.89 432.82L376.43 436.82L380.99 440.82L379.77 444.82L362.76 448.82L363.52 452.82L364.05 456.82L364.66 460.82L365.26 464.82L365.8 468.82L366.17 472.82L366.78 476.82L367.39 480.82L368.3 484.82L377.57 488.82L379.85 492.82L380.17 493.5" stroke="#000" stroke-width="1.75"/>
</g>
<g class="k" text-anchor="middle">
<text x="352.3" y="510.05">0</text>
<text x="390.29" y="510.05">1</text>
<text x="428.27" y="510.05">2</text>
<text x="466.26" y="510.05">3</text>
</g>
<text class="u" x="377.7" y="525.3">DOS (×10<tspan font-size="10.5" dy="-6.3">-4</tspan><tspan dy="6.3" dx="0.6">)</tspan></text>
<text font-size="16.2" x="362.7" y="287.8">(f)</text>
<clipPath id="cg"><rect x="548.1" y="293.35" width="270.3" height="200.75"/></clipPath>
<g stroke="#111" stroke-width="1" fill="none">
<rect x="548.5" y="293.45" width="269.5" height="200.15"/>
<path d="M548.5 473.59h2.5M818 473.59h-2.5M548.5 453.57h4.2M818 453.57h-4.2M548.5 433.56h2.5M818 433.56h-2.5M548.5 413.54h4.2M818 413.54h-4.2M548.5 393.52h2.5M818 393.52h-2.5M548.5 373.51h4.2M818 373.51h-4.2M548.5 353.5h2.5M818 353.5h-2.5M548.5 333.48h4.2M818 333.48h-4.2M548.5 313.46h2.5M818 313.46h-2.5"/>
</g>
<g stroke="#000" fill="none">
<path d="M662.25 293.6V493.6" stroke-width="1.9" stroke-dasharray="2.5 5.63"/>
<path d="M755.5 293.6V493.6" stroke-width="1.9" stroke-dasharray="2.5 5.63"/>
<path d="M549.05 390.7H818" stroke-width="1.8" stroke-dasharray="2.3 5.83"/>
</g>
<g clip-path="url(#cg)" fill="none" stroke-width="1.62" stroke-linejoin="round">
<path d="M548.5 333.6C549.47 333.62 551.93 333.48 554.3 333.7C556.67 333.92 559.92 334.28 562.7 334.9C565.48 335.52 568.23 336.3 571 337.4C573.77 338.5 576.52 339.83 579.3 341.5C582.08 343.17 584.92 345.24 587.7 347.4C590.48 349.56 593.23 352.1 596 354.45C598.77 356.8 601.67 359.34 604.3 361.5C606.93 363.66 609.23 365.78 611.8 367.4C614.37 369.02 617.63 370.43 619.7 371.2C621.77 371.97 622.53 372.05 624.2 372C625.87 371.95 627.68 371.87 629.7 370.9C631.72 369.93 634.08 368.37 636.3 366.2C638.52 364.03 641.38 360.23 643 357.9C644.62 355.57 645.01 354.08 646 352.2C646.99 350.32 647.98 348.47 648.96 346.6C649.94 344.73 650.91 342.83 651.9 341C652.89 339.17 653.91 337.1 654.9 335.6C655.89 334.1 656.97 332.83 657.85 332C658.73 331.17 659.46 330.9 660.2 330.6C660.94 330.3 661.5 330.25 662.3 330.2C663.1 330.15 664.07 329.98 665 330.3C665.93 330.62 666.92 331.26 667.9 332.1C668.88 332.94 669.91 334.17 670.9 335.35C671.89 336.53 672.87 337.92 673.85 339.2C674.83 340.48 676.11 342.17 676.8 343.05C677.49 343.93 677.18 343.51 678 344.5C678.82 345.49 680.47 347.7 681.7 349C682.93 350.3 684.17 351.35 685.4 352.3C686.63 353.25 687.87 354.02 689.1 354.7C690.33 355.38 691.57 355.98 692.8 356.4C694.03 356.82 695.27 357.02 696.5 357.2C697.73 357.38 698.97 357.5 700.2 357.5C701.43 357.5 702.67 357.38 703.9 357.2C705.13 357.02 706.37 356.76 707.6 356.4C708.83 356.04 710.07 355.52 711.3 355.05C712.53 354.58 713.78 354.12 715 353.6C716.22 353.08 717.22 352.65 718.6 351.9C719.98 351.15 721.75 350.1 723.3 349.1C724.85 348.1 726.37 346.98 727.9 345.9C729.43 344.82 730.97 343.63 732.5 342.6C734.03 341.57 735.55 340.57 737.1 339.7C738.65 338.83 740.25 338.07 741.8 337.4C743.35 336.73 744.87 336.18 746.4 335.7C747.93 335.22 749.45 334.81 751 334.5C752.55 334.19 754.15 334 755.7 333.85C757.25 333.7 758.92 333.64 760.3 333.6C761.68 333.56 761.88 333.62 764 333.6C766.12 333.58 768.72 333.57 773 333.5C777.28 333.43 784.7 333.42 789.7 333.2C794.7 332.98 798.28 332.5 803 332.2C807.72 331.9 815.5 331.53 818 331.4" stroke="#f00"/>
<path d="M548.5 415.62C549.22 415.75 551.33 415.93 552.8 416.38C554.27 416.83 555.82 417.56 557.3 418.3C558.78 419.04 559.98 419.79 561.7 420.82C563.42 421.85 565.62 423.12 567.6 424.5C569.58 425.88 571.92 427.87 573.6 429.1C575.28 430.33 576.05 430.6 577.7 431.9C579.35 433.2 581.47 435 583.5 436.9C585.53 438.8 587.17 440.28 589.9 443.3C592.63 446.32 596.57 451.1 599.9 455C603.23 458.9 606.57 463.08 609.9 466.7C613.23 470.32 616.57 473.78 619.9 476.7C623.23 479.62 626.57 482.12 629.9 484.2C633.23 486.28 636.57 487.9 639.9 489.2C643.23 490.5 646.13 491.33 649.9 492C653.67 492.67 658.62 493.17 662.5 493.2C666.38 493.23 670.25 492.6 673.2 492.2C676.15 491.8 677.37 491.67 680.2 490.8C683.03 489.93 686.32 488.67 690.2 487C694.08 485.33 699.05 482.75 703.5 480.8C707.95 478.85 712.45 476.85 716.9 475.3C721.35 473.75 725.77 472.43 730.2 471.5C734.63 470.57 739.28 470.21 743.5 469.75C747.72 469.29 752.5 468.93 755.5 468.75C758.5 468.57 760.5 468.71 761.5 468.7" stroke="#f00"/>
<path d="M761.5 468.7L776.5 493.5L791.5 518.3" stroke="#f00"/>
<path d="M563.5 213.5C565.12 214.83 570.07 218.97 573.2 221.5C576.33 224.03 578.8 226.23 582.3 228.7C585.8 231.17 591.17 234.4 594.2 236.3C597.23 238.2 598.6 238.87 600.5 240.1C602.4 241.33 604.38 242.8 605.6 243.7C606.83 244.6 607.03 244.8 607.85 245.5C608.67 246.2 609.51 247 610.5 247.9C611.49 248.8 612.37 249.5 613.8 250.9C615.23 252.3 617.32 254.47 619.1 256.3C620.88 258.13 622.7 260 624.5 261.9C626.3 263.8 628.13 265.9 629.9 267.7C631.67 269.5 633.37 271 635.1 272.7C636.83 274.4 638.6 276.23 640.3 277.9C642 279.57 643.63 281.23 645.3 282.7C646.97 284.17 648.5 285.5 650.3 286.7C652.1 287.9 654.1 289.1 656.1 289.9C658.1 290.7 660.23 291.2 662.3 291.5C664.37 291.8 666.77 291.5 668.5 291.7C670.23 291.9 670.97 292.07 672.7 292.7C674.43 293.33 676.65 294.8 678.9 295.5C681.15 296.2 683.85 296.77 686.2 296.9C688.55 297.03 690.48 297.17 693 296.3C695.52 295.43 698.25 294 701.3 291.7C704.35 289.4 707.97 285.97 711.3 282.5C714.63 279.03 717.97 275.2 721.3 270.9C724.63 266.6 728.3 260.93 731.3 256.7C734.3 252.47 736.8 249.37 739.3 245.5C741.8 241.63 743.73 237.5 746.3 233.5C748.87 229.5 752 225.23 754.7 221.5C757.4 217.77 761.2 212.83 762.5 211.1" stroke="#f00"/>
<path d="M637.5 187.5C637.83 189.17 638.58 193.83 639.5 197.5C640.42 201.17 641.87 205.5 643 209.5C644.13 213.5 645.12 217.37 646.3 221.5C647.48 225.63 648.9 230.3 650.1 234.3C651.3 238.3 652.5 242.8 653.5 245.5C654.5 248.2 655.15 248.9 656.1 250.5C657.05 252.1 658.17 254.1 659.2 255.1C660.23 256.1 661.33 256.5 662.3 256.5C663.27 256.5 664.13 255.93 665 255.1C665.87 254.27 666.65 253.1 667.5 251.5C668.35 249.9 669.35 247.33 670.1 245.5C670.85 243.67 670.78 244.5 672 240.5C673.22 236.5 675.98 226.67 677.4 221.5C678.82 216.33 679.98 211.5 680.5 209.5" stroke="#f00"/>
<path d="M548.5 381.6C549.47 381.62 551.93 381.48 554.3 381.7C556.67 381.92 559.92 382.28 562.7 382.9C565.48 383.52 568.23 384.3 571 385.4C573.77 386.5 576.52 387.83 579.3 389.5C582.08 391.17 584.92 393.24 587.7 395.4C590.48 397.56 593.23 400.1 596 402.45C598.77 404.8 601.67 407.34 604.3 409.5C606.93 411.66 609.23 413.78 611.8 415.4C614.37 417.02 617.63 418.43 619.7 419.2C621.77 419.97 622.53 420.05 624.2 420C625.87 419.95 627.68 419.87 629.7 418.9C631.72 417.93 634.08 416.37 636.3 414.2C638.52 412.03 641.38 408.23 643 405.9C644.62 403.57 645.01 402.08 646 400.2C646.99 398.32 647.98 396.47 648.96 394.6C649.94 392.73 650.91 390.83 651.9 389C652.89 387.17 653.91 385.1 654.9 383.6C655.89 382.1 656.97 380.83 657.85 380C658.73 379.17 659.46 378.9 660.2 378.6C660.94 378.3 661.5 378.25 662.3 378.2C663.1 378.15 664.07 377.98 665 378.3C665.93 378.62 666.92 379.26 667.9 380.1C668.88 380.94 669.91 382.17 670.9 383.35C671.89 384.53 672.87 385.92 673.85 387.2C674.83 388.48 676.11 390.17 676.8 391.05C677.49 391.93 677.18 391.51 678 392.5C678.82 393.49 680.47 395.7 681.7 397C682.93 398.3 684.17 399.35 685.4 400.3C686.63 401.25 687.87 402.02 689.1 402.7C690.33 403.38 691.57 403.98 692.8 404.4C694.03 404.82 695.27 405.02 696.5 405.2C697.73 405.38 698.97 405.5 700.2 405.5C701.43 405.5 702.67 405.38 703.9 405.2C705.13 405.02 706.37 404.76 707.6 404.4C708.83 404.04 710.07 403.52 711.3 403.05C712.53 402.58 713.78 402.12 715 401.6C716.22 401.08 717.22 400.65 718.6 399.9C719.98 399.15 721.75 398.1 723.3 397.1C724.85 396.1 726.37 394.98 727.9 393.9C729.43 392.82 730.97 391.63 732.5 390.6C734.03 389.57 735.55 388.57 737.1 387.7C738.65 386.83 740.25 386.07 741.8 385.4C743.35 384.73 744.87 384.18 746.4 383.7C747.93 383.22 749.45 382.81 751 382.5C752.55 382.19 754.15 382 755.7 381.85C757.25 381.7 758.92 381.64 760.3 381.6C761.68 381.56 761.88 381.62 764 381.6C766.12 381.58 768.72 381.57 773 381.5C777.28 381.43 784.7 381.42 789.7 381.2C794.7 380.98 798.28 380.5 803 380.2C807.72 379.9 815.5 379.53 818 379.4" stroke="#f00" stroke-dasharray="7.5 6.17" stroke-dashoffset="0"/>
<path d="M548.5 463.62C549.22 463.75 551.33 463.93 552.8 464.38C554.27 464.83 555.82 465.56 557.3 466.3C558.78 467.04 559.98 467.79 561.7 468.82C563.42 469.85 565.62 471.12 567.6 472.5C569.58 473.88 571.92 475.87 573.6 477.1C575.28 478.33 576.05 478.6 577.7 479.9C579.35 481.2 581.47 483 583.5 484.9C585.53 486.8 587.17 488.28 589.9 491.3C592.63 494.32 596.57 499.1 599.9 503C603.23 506.9 606.57 511.08 609.9 514.7C613.23 518.32 616.57 521.78 619.9 524.7C623.23 527.62 626.57 530.12 629.9 532.2C633.23 534.28 636.57 535.9 639.9 537.2C643.23 538.5 646.13 539.33 649.9 540C653.67 540.67 658.62 541.17 662.5 541.2C666.38 541.23 670.25 540.6 673.2 540.2C676.15 539.8 677.37 539.67 680.2 538.8C683.03 537.93 686.32 536.67 690.2 535C694.08 533.33 699.05 530.75 703.5 528.8C707.95 526.85 712.45 524.85 716.9 523.3C721.35 521.75 725.77 520.42 730.2 519.5C734.63 518.58 739.28 518.21 743.5 517.75C747.72 517.29 752.5 516.92 755.5 516.75C758.5 516.58 760.5 516.71 761.5 516.7" stroke="#f00" stroke-dasharray="7.5 6.17" stroke-dashoffset="0"/>
<path d="M761.5 516.7L776.5 541.5L791.5 566.3" stroke="#f00" stroke-dasharray="7.5 6.17" stroke-dashoffset="0"/>
<path d="M563.5 261.5C565.12 262.83 570.07 266.97 573.2 269.5C576.33 272.03 578.8 274.23 582.3 276.7C585.8 279.17 591.17 282.4 594.2 284.3C597.23 286.2 598.6 286.87 600.5 288.1C602.4 289.33 604.38 290.8 605.6 291.7C606.83 292.6 607.03 292.8 607.85 293.5C608.67 294.2 609.51 295 610.5 295.9C611.49 296.8 612.37 297.5 613.8 298.9C615.23 300.3 617.32 302.47 619.1 304.3C620.88 306.13 622.7 308 624.5 309.9C626.3 311.8 628.13 313.9 629.9 315.7C631.67 317.5 633.37 319 635.1 320.7C636.83 322.4 638.6 324.23 640.3 325.9C642 327.57 643.63 329.23 645.3 330.7C646.97 332.17 648.5 333.5 650.3 334.7C652.1 335.9 654.1 337.1 656.1 337.9C658.1 338.7 660.23 339.2 662.3 339.5C664.37 339.8 666.77 339.5 668.5 339.7C670.23 339.9 670.97 340.07 672.7 340.7C674.43 341.33 676.65 342.8 678.9 343.5C681.15 344.2 683.85 344.77 686.2 344.9C688.55 345.03 690.48 345.17 693 344.3C695.52 343.43 698.25 342 701.3 339.7C704.35 337.4 707.97 333.97 711.3 330.5C714.63 327.03 717.97 323.2 721.3 318.9C724.63 314.6 728.3 308.93 731.3 304.7C734.3 300.47 736.8 297.37 739.3 293.5C741.8 289.63 743.73 285.5 746.3 281.5C748.87 277.5 752 273.23 754.7 269.5C757.4 265.77 761.2 260.83 762.5 259.1" stroke="#f00" stroke-dasharray="7.5 6.17" stroke-dashoffset="5.95"/>
<path d="M637.5 235.5C637.83 237.17 638.58 241.83 639.5 245.5C640.42 249.17 641.87 253.5 643 257.5C644.13 261.5 645.12 265.37 646.3 269.5C647.48 273.63 648.9 278.3 650.1 282.3C651.3 286.3 652.5 290.8 653.5 293.5C654.5 296.2 655.15 296.9 656.1 298.5C657.05 300.1 658.17 302.1 659.2 303.1C660.23 304.1 661.33 304.5 662.3 304.5C663.27 304.5 664.13 303.93 665 303.1C665.87 302.27 666.65 301.1 667.5 299.5C668.35 297.9 669.35 295.33 670.1 293.5C670.85 291.67 670.78 292.5 672 288.5C673.22 284.5 675.98 274.67 677.4 269.5C678.82 264.33 679.98 259.5 680.5 257.5" stroke="#f00" stroke-dasharray="7.5 6.17" stroke-dashoffset="0"/>
<path d="M548.5 379.8C549.47 379.78 551.93 379.58 554.3 379.7C556.67 379.82 559.92 379.97 562.7 380.5C565.48 381.03 568.23 381.95 571 382.9C573.77 383.85 576.52 384.88 579.3 386.2C582.08 387.52 584.92 389.07 587.7 390.8C590.48 392.53 593.23 394.58 596 396.6C598.77 398.62 601.52 400.88 604.3 402.9C607.08 404.92 610.2 407.11 612.7 408.7C615.2 410.29 616.88 411.53 619.3 412.45C621.72 413.37 624.92 414.19 627.2 414.2C629.48 414.21 630.92 413.75 633 412.5C635.08 411.25 638.03 408.32 639.7 406.7C641.37 405.08 641.95 404.22 643 402.8C644.05 401.38 645.01 399.83 646 398.16C646.99 396.49 647.98 394.58 648.96 392.8C649.94 391.02 650.91 389.18 651.9 387.5C652.89 385.82 653.91 384.08 654.9 382.75C655.89 381.42 656.97 380.23 657.85 379.5C658.73 378.77 659.46 378.65 660.2 378.4C660.94 378.15 661.6 378.03 662.3 378C663 377.97 663.67 377.9 664.4 378.2C665.13 378.5 665.82 378.85 666.7 379.8C667.58 380.75 668.7 382.27 669.7 383.9C670.7 385.53 671.72 387.57 672.7 389.6C673.68 391.63 674.72 394.12 675.6 396.1C676.48 398.08 676.98 399.23 678 401.5C679.02 403.77 680.47 407.32 681.7 409.7C682.93 412.08 684.17 414.12 685.4 415.8C686.63 417.48 687.83 418.77 689.1 419.8C690.37 420.83 691.65 421.48 693 422C694.35 422.52 695.53 423.05 697.2 422.9C698.87 422.75 700.92 422.27 703 421.1C705.08 419.93 707.87 417.43 709.7 415.9C711.53 414.37 712.52 413.41 714 411.9C715.48 410.39 717.05 408.54 718.6 406.85C720.15 405.16 721.75 403.44 723.3 401.75C724.85 400.06 726.37 398.32 727.9 396.7C729.43 395.07 730.97 393.4 732.5 392C734.03 390.6 735.55 389.37 737.1 388.3C738.65 387.22 740.25 386.32 741.8 385.55C743.35 384.78 744.87 384.21 746.4 383.7C747.93 383.19 749.45 382.81 751 382.5C752.55 382.19 754.15 381.98 755.7 381.85C757.25 381.72 758.92 381.72 760.3 381.7C761.68 381.68 761.88 381.73 764 381.75C766.12 381.77 768.72 381.76 773 381.8C777.28 381.84 784.15 382.05 789.7 382C795.25 381.95 801.58 381.63 806.3 381.5C811.02 381.37 816.05 381.25 818 381.2" stroke="#00f"/>
<path d="M753.5 529.5C754.75 527.5 758.3 521.7 761 517.5C763.7 513.3 766.92 508.3 769.7 504.3C772.48 500.3 775.2 496.7 777.7 493.5C780.2 490.3 782.15 488.03 784.7 485.1C787.25 482.17 790.23 478.6 793 475.9C795.77 473.2 798.52 470.77 801.3 468.9C804.08 467.03 806.92 465.57 809.7 464.7C812.48 463.83 816.62 463.87 818 463.7" stroke="#00f"/>
<path d="M586.5 236.3C587.33 237.83 589.27 241.43 591.5 245.5C593.73 249.57 597.6 256.7 599.9 260.7C602.2 264.7 603.3 266.3 605.3 269.5C607.3 272.7 609.57 275.9 611.9 279.9C614.23 283.9 617.3 290.03 619.3 293.5C621.3 296.97 622.27 298.23 623.9 300.7C625.53 303.17 627.37 305.8 629.1 308.3C630.83 310.8 632.57 313.37 634.3 315.7C636.03 318.03 637.77 320.23 639.5 322.3C641.23 324.37 642.97 326.37 644.7 328.1C646.43 329.83 648 331.2 649.9 332.7C651.8 334.2 654.03 336 656.1 337.1C658.17 338.2 660.57 339.07 662.3 339.3C664.03 339.53 665.28 339.27 666.5 338.5C667.72 337.73 668.57 336.53 669.6 334.7C670.63 332.87 671.67 330.07 672.7 327.5C673.73 324.93 674.77 322.03 675.8 319.3C676.83 316.57 677.87 313.87 678.9 311.1C679.93 308.33 680.87 305.63 682 302.7C683.13 299.77 683.65 299.03 685.7 293.5C687.75 287.97 691.63 277.5 694.3 269.5C696.97 261.5 700 251.17 701.7 245.5C703.4 239.83 704.03 237.17 704.5 235.5" stroke="#00f"/>
<path d="M637.5 235.5C637.83 237.17 638.58 241.83 639.5 245.5C640.42 249.17 641.87 253.5 643 257.5C644.13 261.5 645.12 265.37 646.3 269.5C647.48 273.63 648.9 278.3 650.1 282.3C651.3 286.3 652.5 290.8 653.5 293.5C654.5 296.2 655.15 296.9 656.1 298.5C657.05 300.1 658.17 302.1 659.2 303.1C660.23 304.1 661.27 304.5 662.3 304.5C663.33 304.5 664.37 303.93 665.4 303.1C666.43 302.27 667.37 301.1 668.5 299.5C669.63 297.9 670.87 296.1 672.2 293.5C673.53 290.9 674.58 287.9 676.5 283.9C678.42 279.9 680.95 275.9 683.7 269.5C686.45 263.1 690.87 251.17 693 245.5C695.13 239.83 695.92 237.17 696.5 235.5" stroke="#00f"/>
<path d="M749 237.5C749.58 238.8 751.33 243.1 752.5 245.3C753.67 247.5 754.85 248.73 756 250.7C757.15 252.67 757.93 255.23 759.4 257.1C760.87 258.97 762.93 260.47 764.8 261.9C766.67 263.33 768.52 264.57 770.6 265.7C772.68 266.83 775.07 268.13 777.3 268.7C779.52 269.27 781.73 269.3 783.95 269.1C786.17 268.9 788.66 268.3 790.6 267.5C792.54 266.7 793.93 265.63 795.6 264.3C797.27 262.97 799.07 261.33 800.6 259.5C802.13 257.67 803.41 255.23 804.8 253.3C806.19 251.37 807.98 249.23 808.95 247.9C809.92 246.57 809.93 247.03 810.6 245.3C811.27 243.57 812.6 238.8 813 237.5" stroke="#00f"/>
<path d="M548.5 427.8C549.47 427.78 551.93 427.58 554.3 427.7C556.67 427.82 559.92 427.97 562.7 428.5C565.48 429.03 568.23 429.95 571 430.9C573.77 431.85 576.52 432.88 579.3 434.2C582.08 435.52 584.92 437.07 587.7 438.8C590.48 440.53 593.23 442.58 596 444.6C598.77 446.62 601.52 448.88 604.3 450.9C607.08 452.92 610.2 455.11 612.7 456.7C615.2 458.29 616.88 459.53 619.3 460.45C621.72 461.37 624.92 462.19 627.2 462.2C629.48 462.21 630.92 461.75 633 460.5C635.08 459.25 638.03 456.32 639.7 454.7C641.37 453.08 641.95 452.22 643 450.8C644.05 449.38 645.01 447.83 646 446.16C646.99 444.49 647.98 442.58 648.96 440.8C649.94 439.02 650.91 437.18 651.9 435.5C652.89 433.82 653.91 432.08 654.9 430.75C655.89 429.42 656.97 428.23 657.85 427.5C658.73 426.77 659.46 426.65 660.2 426.4C660.94 426.15 661.6 426.03 662.3 426C663 425.97 663.67 425.9 664.4 426.2C665.13 426.5 665.82 426.85 666.7 427.8C667.58 428.75 668.7 430.27 669.7 431.9C670.7 433.53 671.72 435.57 672.7 437.6C673.68 439.63 674.72 442.12 675.6 444.1C676.48 446.08 676.98 447.23 678 449.5C679.02 451.77 680.47 455.32 681.7 457.7C682.93 460.08 684.17 462.12 685.4 463.8C686.63 465.48 687.83 466.77 689.1 467.8C690.37 468.83 691.65 469.48 693 470C694.35 470.52 695.53 471.05 697.2 470.9C698.87 470.75 700.92 470.27 703 469.1C705.08 467.93 707.87 465.43 709.7 463.9C711.53 462.37 712.52 461.41 714 459.9C715.48 458.39 717.05 456.54 718.6 454.85C720.15 453.16 721.75 451.44 723.3 449.75C724.85 448.06 726.37 446.32 727.9 444.7C729.43 443.07 730.97 441.4 732.5 440C734.03 438.6 735.55 437.37 737.1 436.3C738.65 435.22 740.25 434.32 741.8 433.55C743.35 432.78 744.87 432.21 746.4 431.7C747.93 431.19 749.45 430.81 751 430.5C752.55 430.19 754.15 429.98 755.7 429.85C757.25 429.72 758.92 429.72 760.3 429.7C761.68 429.68 761.88 429.73 764 429.75C766.12 429.77 768.72 429.76 773 429.8C777.28 429.84 784.15 430.05 789.7 430C795.25 429.95 801.58 429.63 806.3 429.5C811.02 429.37 816.05 429.25 818 429.2" stroke="#00f" stroke-dasharray="7.5 6.17" stroke-dashoffset="0"/>
<path d="M753.5 577.5C754.75 575.5 758.3 569.7 761 565.5C763.7 561.3 766.92 556.3 769.7 552.3C772.48 548.3 775.2 544.7 777.7 541.5C780.2 538.3 782.15 536.03 784.7 533.1C787.25 530.17 790.23 526.6 793 523.9C795.77 521.2 798.52 518.77 801.3 516.9C804.08 515.03 806.92 513.57 809.7 512.7C812.48 511.83 816.62 511.87 818 511.7" stroke="#00f" stroke-dasharray="7.5 6.17" stroke-dashoffset="0"/>
<path d="M586.5 284.3C587.33 285.83 589.27 289.43 591.5 293.5C593.73 297.57 597.6 304.7 599.9 308.7C602.2 312.7 603.3 314.3 605.3 317.5C607.3 320.7 609.57 323.9 611.9 327.9C614.23 331.9 617.3 338.03 619.3 341.5C621.3 344.97 622.27 346.23 623.9 348.7C625.53 351.17 627.37 353.8 629.1 356.3C630.83 358.8 632.57 361.37 634.3 363.7C636.03 366.03 637.77 368.23 639.5 370.3C641.23 372.37 642.97 374.37 644.7 376.1C646.43 377.83 648 379.2 649.9 380.7C651.8 382.2 654.03 384 656.1 385.1C658.17 386.2 660.57 387.07 662.3 387.3C664.03 387.53 665.28 387.27 666.5 386.5C667.72 385.73 668.57 384.53 669.6 382.7C670.63 380.87 671.67 378.07 672.7 375.5C673.73 372.93 674.77 370.03 675.8 367.3C676.83 364.57 677.87 361.87 678.9 359.1C679.93 356.33 680.87 353.63 682 350.7C683.13 347.77 683.65 347.03 685.7 341.5C687.75 335.97 691.63 325.5 694.3 317.5C696.97 309.5 700 299.17 701.7 293.5C703.4 287.83 704.03 285.17 704.5 283.5" stroke="#00f" stroke-dasharray="7.5 6.17" stroke-dashoffset="7.71"/>
<path d="M637.5 283.5C637.83 285.17 638.58 289.83 639.5 293.5C640.42 297.17 641.87 301.5 643 305.5C644.13 309.5 645.12 313.37 646.3 317.5C647.48 321.63 648.9 326.3 650.1 330.3C651.3 334.3 652.5 338.8 653.5 341.5C654.5 344.2 655.15 344.9 656.1 346.5C657.05 348.1 658.17 350.1 659.2 351.1C660.23 352.1 661.27 352.5 662.3 352.5C663.33 352.5 664.37 351.93 665.4 351.1C666.43 350.27 667.37 349.1 668.5 347.5C669.63 345.9 670.87 344.1 672.2 341.5C673.53 338.9 674.58 335.9 676.5 331.9C678.42 327.9 680.95 323.9 683.7 317.5C686.45 311.1 690.87 299.17 693 293.5C695.13 287.83 695.92 285.17 696.5 283.5" stroke="#00f" stroke-dasharray="7.5 6.17" stroke-dashoffset="11.62"/>
<path d="M749 285.5C749.58 286.8 751.33 291.1 752.5 293.3C753.67 295.5 754.85 296.73 756 298.7C757.15 300.67 757.93 303.23 759.4 305.1C760.87 306.97 762.93 308.47 764.8 309.9C766.67 311.33 768.52 312.57 770.6 313.7C772.68 314.83 775.07 316.13 777.3 316.7C779.52 317.27 781.73 317.3 783.95 317.1C786.17 316.9 788.66 316.3 790.6 315.5C792.54 314.7 793.93 313.63 795.6 312.3C797.27 310.97 799.07 309.33 800.6 307.5C802.13 305.67 803.41 303.23 804.8 301.3C806.19 299.37 807.98 297.23 808.95 295.9C809.92 294.57 809.93 295.03 810.6 293.3C811.27 291.57 812.6 286.8 813 285.5" stroke="#00f" stroke-dasharray="7.5 6.17" stroke-dashoffset="5.42"/>
</g>
<g class="k" text-anchor="end">
<text x="544.5" y="499.15">0</text>
<text x="544.5" y="459.12">10</text>
<text x="544.5" y="419.09">20</text>
<text x="544.5" y="379.06">30</text>
<text x="544.5" y="339.03">40</text>
<text x="544.5" y="299">50</text>
</g>
<text font-size="17.5" font-style="italic" transform="translate(523 409.6) rotate(-90) scale(1.22 1.06)">ε</text>
<text font-size="16.3" transform="translate(523 398.4) rotate(-90)">(meV)</text>
<text font-size="16.5" x="546.1" y="512.3" font-style="italic">K</text>
<path d="M545.65 498.05h10.8" stroke="#000" stroke-width="1.45"/>
<text class="t" x="556.7" y="511.9">'</text>
<text class="t" transform="translate(658.8 512.45) scale(1.21 1.04)">Γ</text>
<path d="M659.05 498.2h10.4" stroke="#000" stroke-width="1.5"/>
<text font-size="17.3" x="750.5" y="513.4" font-style="italic">M</text>
<path d="M750.7 498.05h14.2" stroke="#000" stroke-width="1.45"/>
<text font-size="16.5" x="813.7" y="512.3" font-style="italic">K</text>
<path d="M813.25 498.05h10.8" stroke="#000" stroke-width="1.45"/>
<path d="M600.05 282.5h8.6M600.05 285.65h8.6" stroke="#000" stroke-width="1.2"/>
<path d="M626.3 282.5h8.6M626.3 285.65h8.6" stroke="#000" stroke-width="1.2"/>
<text class="u"><tspan x="560.1" y="288.95">(g)</tspan><tspan x="583.4" y="288.95">Δ</tspan><tspan x="594.36" y="292.65" font-size="10.8" font-style="italic">s</tspan><tspan x="609.8" y="288.95">Δ</tspan><tspan x="620.7" y="292.65" font-size="10.8" font-style="italic">v</tspan><tspan x="635.1" y="288.95">6</tspan><tspan x="648.16" y="288.95">me</tspan><tspan x="668.2" y="288.95">V</tspan></text>
<clipPath id="dh"><rect x="830" y="292.8" width="133.45" height="200.55"/></clipPath>
<g stroke="#111" stroke-width="1" fill="none">
<rect x="830.5" y="292.8" width="132.95" height="200.25"/>
<path d="M830.5 473.03h2.5M963.45 473.03h-2.5M830.5 453h4.2M963.45 453h-4.2M830.5 432.98h2.5M963.45 432.98h-2.5M830.5 412.95h4.2M963.45 412.95h-4.2M830.5 392.93h2.5M963.45 392.93h-2.5M830.5 372.9h4.2M963.45 372.9h-4.2M830.5 352.88h2.5M963.45 352.88h-2.5M830.5 332.85h4.2M963.45 332.85h-4.2M830.5 312.83h2.5M963.45 312.83h-2.5M849.49 493.05v-2.2M849.49 292.8v2.2M868.49 493.05v-4M868.49 292.8v4M887.48 493.05v-2.2M887.48 292.8v2.2M906.47 493.05v-4M906.47 292.8v4M925.46 493.05v-2.2M925.46 292.8v2.2M944.46 493.05v-4M944.46 292.8v4"/>
</g>
<g clip-path="url(#dh)" fill="none" stroke-width="1.55" stroke-linejoin="round">
<path d="M834.04 293.5L831.83 296.82L830.5 300.82L830.5 304.82L830.5 308.82L830.5 312.82L830.5 316.82L830.5 320.82L830.5 324.82L830.5 328.82L887.67 332.82L869.51 336.82L855 340.82L849.87 344.82L847.97 348.82L847.21 352.82L850.44 356.82L845.69 360.82L842.47 364.82L840.57 368.82L839.39 372.82L830.5 376.82L830.5 380.82L830.5 384.82L830.5 388.82L830.5 392.82L830.5 396.82L830.5 400.82L830.5 404.82L830.5 408.82L830.5 412.82L834.68 416.82L835.25 420.82L835.63 424.82L836.01 428.82L836.27 432.82L836.58 436.82L836.88 440.82L837.15 444.82L837.34 448.82L837.64 452.82L837.95 456.82L838.4 460.82L838.86 464.82L839.43 468.82L840 472.82L841.14 476.82L842.66 480.82L845.12 484.82L848.73 488.82L860.32 492.82L861.71 493.5" stroke="#f00"/>
<path d="M837.78 293.5L838.1 296.82L836.39 300.82L836.46 304.82L836.2 308.82L835.82 312.82L835.44 316.82L835.13 320.82L834.68 324.82L835.25 328.82L835.06 332.82L836.01 336.82L834.49 340.82L831.83 344.82L830.5 348.82L830.5 352.82L830.5 356.82L830.5 360.82L830.5 364.82L830.5 368.82L830.5 372.82L830.5 376.82L887.67 380.82L869.51 384.82L855 388.82L849.87 392.82L847.97 396.82L847.21 400.82L850.44 404.82L845.69 408.82L842.47 412.82L840.57 416.82L839.39 420.82L830.5 424.82L830.5 428.82L830.5 432.82L830.5 436.82L830.5 440.82L830.5 444.82L830.5 448.82L830.5 452.82L830.5 456.82L830.5 460.82L834.68 464.82L835.25 468.82L835.63 472.82L836.01 476.82L836.27 480.82L836.58 484.82L836.88 488.82L837.15 492.82L837.18 493.5" stroke="#f00" stroke-dasharray="7.5 6.17" stroke-dashoffset="9.2"/>
<path d="M837.78 293.5L838.1 296.82L836.39 300.82L836.46 304.82L836.2 308.82L835.82 312.82L835.44 316.82L835.13 320.82L834.68 324.82L835.25 328.82L835.06 332.82L836.01 336.82L834.49 340.82L831.83 344.82L830.5 348.82L830.5 352.82L830.5 356.82L830.5 360.82L830.5 364.82L830.5 368.82L830.5 372.82L830.5 376.82L887.67 380.82L869.51 384.82L855 388.82L849.87 392.82L847.97 396.82L847.21 400.82L850.44 404.82L845.69 408.82L842.47 412.82L840.57 416.82L839.39 420.82L830.5 424.82L830.5 428.82L830.5 432.82L830.5 436.82L830.5 440.82L830.5 444.82L830.5 448.82L830.5 452.82L830.5 456.82L830.5 460.82L834.68 464.82L835.25 468.82L835.63 472.82L836.01 476.82L836.27 480.82L836.58 484.82L836.88 488.82L837.15 492.82L837.18 493.5" stroke="#00f"/>
<path d="M837.72 293.5L837.72 296.82L837.72 300.82L843.79 304.82L841.14 308.82L840.76 312.82L840.45 316.82L840 320.82L839.62 324.82L839.24 328.82L838.86 332.82L838.48 336.82L837.72 340.82L838.1 344.82L836.39 348.82L836.46 352.82L836.2 356.82L835.82 360.82L835.44 364.82L835.13 368.82L834.68 372.82L835.25 376.82L835.06 380.82L836.01 384.82L834.49 388.82L831.83 392.82L830.5 396.82L830.5 400.82L830.5 404.82L830.5 408.82L830.5 412.82L830.5 416.82L830.5 420.82L830.5 424.82L887.67 428.82L869.51 432.82L855 436.82L849.87 440.82L847.97 444.82L847.21 448.82L850.44 452.82L845.69 456.82L842.47 460.82L840.57 464.82L839.39 468.82L830.5 472.82L830.5 476.82L830.5 480.82L830.5 484.82L830.5 488.82L830.5 492.82L830.5 493.5" stroke="#00f" stroke-dasharray="7.5 6.17" stroke-dashoffset="5.5"/>
<path d="M855.82 293.5L854.24 296.82L849.49 300.82L855.72 304.82L852.53 308.82L851.39 312.82L850.33 316.82L849.26 320.82L847.97 324.82L848.73 328.82L905.14 332.82L888.5 336.82L870.2 340.82L860.13 344.82L853.86 348.82L853.18 352.82L856.14 356.82L851.01 360.82L847.4 364.82L845.2 368.82L843.57 372.82L835.25 376.82L949.4 380.82L914.03 384.82L883.49 388.82L870.57 392.82L865.45 396.82L863.93 400.82L870.38 404.82L860.89 408.82L854.43 412.82L854.81 416.82L853.03 420.82L835.63 424.82L893.18 428.82L875.29 432.82L861.08 436.82L856.25 440.82L854.62 444.82L854.05 448.82L857.58 452.82L853.14 456.82L850.37 460.82L857.28 464.82L857.81 468.82L850.25 472.82L852.15 476.82L854.2 480.82L857.28 484.82L861.5 488.82L873.61 492.82L875.07 493.5" stroke="#000" stroke-width="1.75"/>
</g>
<g class="k" text-anchor="middle">
<text x="830.3" y="510.05">0</text>
<text x="868.29" y="510.05">1</text>
<text x="906.27" y="510.05">2</text>
<text x="944.26" y="510.05">3</text>
</g>
<text class="u" x="855.7" y="525.3">DOS (×10<tspan font-size="10.5" dy="-6.3">-4</tspan><tspan dy="6.3" dx="0.6">)</tspan></text>
<text font-size="16.2" x="840.7" y="287.8">(h)</text>
</svg>
</body></html>
